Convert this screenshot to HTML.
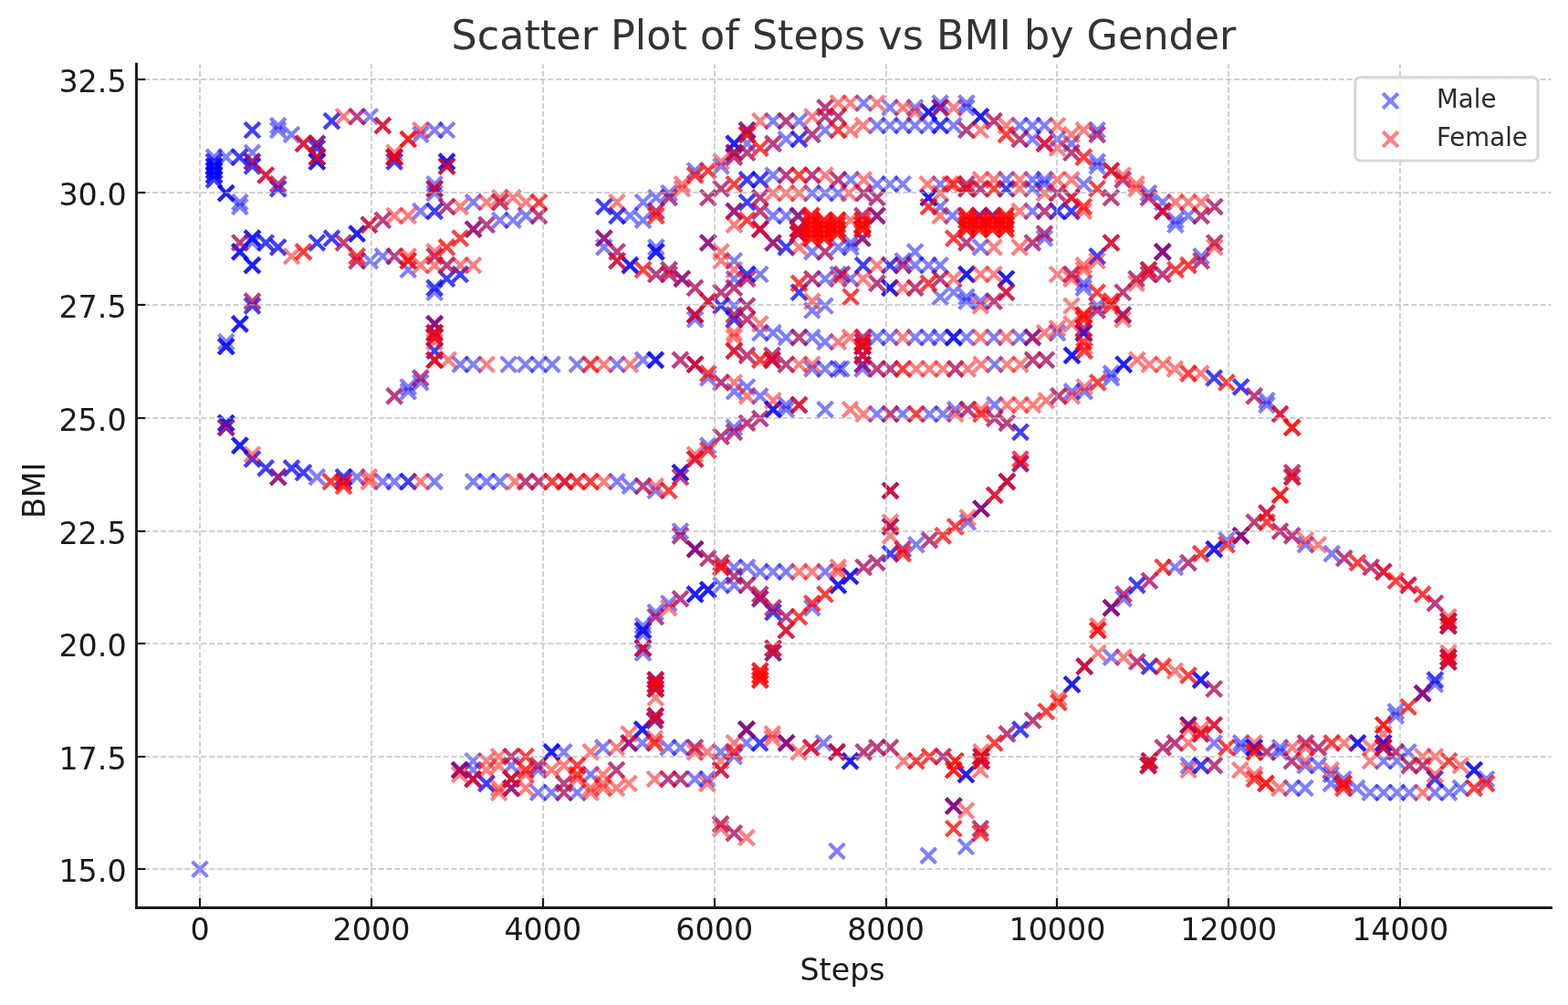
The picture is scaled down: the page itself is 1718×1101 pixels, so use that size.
<!DOCTYPE html>
<html lang="en"><head><meta charset="utf-8"><title>Scatter Plot of Steps vs BMI by Gender</title>
<style>html,body{margin:0;padding:0;background:#fff;}body{width:1718px;height:1101px;overflow:hidden;}svg{display:block;}text{font-family:"DejaVu Sans","Liberation Sans",sans-serif;}.tk{font-size:33.33px;fill:#1a1a1a;}.ti{font-size:44.44px;fill:#333333;}.lg{font-size:27.6px;fill:#2b2b2b;}.g{stroke:#b0b0b0;stroke-opacity:0.58;stroke-width:2;stroke-dasharray:6.17 2.67;fill:none;}.sp{stroke:#1a1a1a;stroke-width:2.9;fill:none;stroke-linecap:square;}.t{stroke:#1a1a1a;stroke-width:2.2;fill:none;}.m{stroke:#0000ff;stroke-opacity:0.5;stroke-width:4.17;fill:none;}.f{stroke:#ff0000;stroke-opacity:0.5;stroke-width:4.17;fill:none;}</style></head><body>
<svg width="1718" height="1101" viewBox="0 0 1718 1101">
<rect width="1718" height="1101" fill="#ffffff"/>
<g class="m">
<path d="M226.2 163.8l16.7 16.7m0-16.7l-16.7 16.7"/>
<path d="M226.2 168.7l16.7 16.7m0-16.7l-16.7 16.7"/>
<path d="M226.2 168.7l16.7 16.7m0-16.7l-16.7 16.7"/>
<path d="M226.2 173.7l16.7 16.7m0-16.7l-16.7 16.7"/>
<path d="M226.2 173.7l16.7 16.7m0-16.7l-16.7 16.7"/>
<path d="M226.2 173.7l16.7 16.7m0-16.7l-16.7 16.7"/>
<path d="M226.2 178.6l16.7 16.7m0-16.7l-16.7 16.7"/>
<path d="M226.2 178.6l16.7 16.7m0-16.7l-16.7 16.7"/>
<path d="M226.2 178.6l16.7 16.7m0-16.7l-16.7 16.7"/>
<path d="M226.2 183.6l16.7 16.7m0-16.7l-16.7 16.7"/>
<path d="M226.2 183.6l16.7 16.7m0-16.7l-16.7 16.7"/>
<path d="M226.2 183.6l16.7 16.7m0-16.7l-16.7 16.7"/>
<path d="M226.2 188.5l16.7 16.7m0-16.7l-16.7 16.7"/>
<path d="M226.2 188.5l16.7 16.7m0-16.7l-16.7 16.7"/>
<path d="M239.4 163.8l16.7 16.7m0-16.7l-16.7 16.7"/>
<path d="M254.1 163.8l16.7 16.7m0-16.7l-16.7 16.7"/>
<path d="M254.1 163.8l16.7 16.7m0-16.7l-16.7 16.7"/>
<path d="M268.1 158.9l16.7 16.7m0-16.7l-16.7 16.7"/>
<path d="M268.1 168.7l16.7 16.7m0-16.7l-16.7 16.7"/>
<path d="M268.1 168.7l16.7 16.7m0-16.7l-16.7 16.7"/>
<path d="M268.1 173.7l16.7 16.7m0-16.7l-16.7 16.7"/>
<path d="M268.1 173.7l16.7 16.7m0-16.7l-16.7 16.7"/>
<path d="M282.8 183.6l16.7 16.7m0-16.7l-16.7 16.7"/>
<path d="M296.4 193.4l16.7 16.7m0-16.7l-16.7 16.7"/>
<path d="M296.4 198.4l16.7 16.7m0-16.7l-16.7 16.7"/>
<path d="M296.4 198.4l16.7 16.7m0-16.7l-16.7 16.7"/>
<path d="M239.4 203.3l16.7 16.7m0-16.7l-16.7 16.7"/>
<path d="M239.4 203.3l16.7 16.7m0-16.7l-16.7 16.7"/>
<path d="M239.4 203.3l16.7 16.7m0-16.7l-16.7 16.7"/>
<path d="M254.5 213.2l16.7 16.7m0-16.7l-16.7 16.7"/>
<path d="M254.5 218.1l16.7 16.7m0-16.7l-16.7 16.7"/>
<path d="M268.1 134.2l16.7 16.7m0-16.7l-16.7 16.7"/>
<path d="M268.1 134.2l16.7 16.7m0-16.7l-16.7 16.7"/>
<path d="M296.4 129.2l16.7 16.7m0-16.7l-16.7 16.7"/>
<path d="M296.4 134.2l16.7 16.7m0-16.7l-16.7 16.7"/>
<path d="M311.1 139.1l16.7 16.7m0-16.7l-16.7 16.7"/>
<path d="M324.1 149.0l16.7 16.7m0-16.7l-16.7 16.7"/>
<path d="M339.0 149.0l16.7 16.7m0-16.7l-16.7 16.7"/>
<path d="M339.0 149.0l16.7 16.7m0-16.7l-16.7 16.7"/>
<path d="M339.0 153.9l16.7 16.7m0-16.7l-16.7 16.7"/>
<path d="M339.0 153.9l16.7 16.7m0-16.7l-16.7 16.7"/>
<path d="M339.0 163.8l16.7 16.7m0-16.7l-16.7 16.7"/>
<path d="M339.0 163.8l16.7 16.7m0-16.7l-16.7 16.7"/>
<path d="M339.0 168.7l16.7 16.7m0-16.7l-16.7 16.7"/>
<path d="M339.0 168.7l16.7 16.7m0-16.7l-16.7 16.7"/>
<path d="M339.0 168.7l16.7 16.7m0-16.7l-16.7 16.7"/>
<path d="M355.1 124.3l16.7 16.7m0-16.7l-16.7 16.7"/>
<path d="M355.1 124.3l16.7 16.7m0-16.7l-16.7 16.7"/>
<path d="M382.8 119.4l16.7 16.7m0-16.7l-16.7 16.7"/>
<path d="M397.0 119.4l16.7 16.7m0-16.7l-16.7 16.7"/>
<path d="M411.0 129.2l16.7 16.7m0-16.7l-16.7 16.7"/>
<path d="M423.8 163.8l16.7 16.7m0-16.7l-16.7 16.7"/>
<path d="M423.8 163.8l16.7 16.7m0-16.7l-16.7 16.7"/>
<path d="M423.8 163.8l16.7 16.7m0-16.7l-16.7 16.7"/>
<path d="M423.8 168.7l16.7 16.7m0-16.7l-16.7 16.7"/>
<path d="M423.8 168.7l16.7 16.7m0-16.7l-16.7 16.7"/>
<path d="M452.5 139.1l16.7 16.7m0-16.7l-16.7 16.7"/>
<path d="M467.8 134.2l16.7 16.7m0-16.7l-16.7 16.7"/>
<path d="M481.2 134.2l16.7 16.7m0-16.7l-16.7 16.7"/>
<path d="M481.2 168.7l16.7 16.7m0-16.7l-16.7 16.7"/>
<path d="M481.2 168.7l16.7 16.7m0-16.7l-16.7 16.7"/>
<path d="M481.2 168.7l16.7 16.7m0-16.7l-16.7 16.7"/>
<path d="M481.2 173.7l16.7 16.7m0-16.7l-16.7 16.7"/>
<path d="M481.2 173.7l16.7 16.7m0-16.7l-16.7 16.7"/>
<path d="M467.8 193.4l16.7 16.7m0-16.7l-16.7 16.7"/>
<path d="M467.8 198.4l16.7 16.7m0-16.7l-16.7 16.7"/>
<path d="M467.8 198.4l16.7 16.7m0-16.7l-16.7 16.7"/>
<path d="M467.8 203.3l16.7 16.7m0-16.7l-16.7 16.7"/>
<path d="M481.2 218.1l16.7 16.7m0-16.7l-16.7 16.7"/>
<path d="M510.2 213.2l16.7 16.7m0-16.7l-16.7 16.7"/>
<path d="M539.5 213.2l16.7 16.7m0-16.7l-16.7 16.7"/>
<path d="M467.8 223.0l16.7 16.7m0-16.7l-16.7 16.7"/>
<path d="M467.8 223.0l16.7 16.7m0-16.7l-16.7 16.7"/>
<path d="M452.5 223.0l16.7 16.7m0-16.7l-16.7 16.7"/>
<path d="M411.0 232.9l16.7 16.7m0-16.7l-16.7 16.7"/>
<path d="M396.0 237.9l16.7 16.7m0-16.7l-16.7 16.7"/>
<path d="M382.8 247.7l16.7 16.7m0-16.7l-16.7 16.7"/>
<path d="M382.8 247.7l16.7 16.7m0-16.7l-16.7 16.7"/>
<path d="M382.8 247.7l16.7 16.7m0-16.7l-16.7 16.7"/>
<path d="M368.1 257.6l16.7 16.7m0-16.7l-16.7 16.7"/>
<path d="M355.1 252.7l16.7 16.7m0-16.7l-16.7 16.7"/>
<path d="M355.1 252.7l16.7 16.7m0-16.7l-16.7 16.7"/>
<path d="M339.0 257.6l16.7 16.7m0-16.7l-16.7 16.7"/>
<path d="M339.0 257.6l16.7 16.7m0-16.7l-16.7 16.7"/>
<path d="M296.4 262.5l16.7 16.7m0-16.7l-16.7 16.7"/>
<path d="M296.4 262.5l16.7 16.7m0-16.7l-16.7 16.7"/>
<path d="M282.8 257.6l16.7 16.7m0-16.7l-16.7 16.7"/>
<path d="M282.8 257.6l16.7 16.7m0-16.7l-16.7 16.7"/>
<path d="M268.1 252.7l16.7 16.7m0-16.7l-16.7 16.7"/>
<path d="M268.1 252.7l16.7 16.7m0-16.7l-16.7 16.7"/>
<path d="M268.1 252.7l16.7 16.7m0-16.7l-16.7 16.7"/>
<path d="M268.1 257.6l16.7 16.7m0-16.7l-16.7 16.7"/>
<path d="M254.5 257.6l16.7 16.7m0-16.7l-16.7 16.7"/>
<path d="M254.5 267.5l16.7 16.7m0-16.7l-16.7 16.7"/>
<path d="M254.5 267.5l16.7 16.7m0-16.7l-16.7 16.7"/>
<path d="M254.5 267.5l16.7 16.7m0-16.7l-16.7 16.7"/>
<path d="M268.1 282.3l16.7 16.7m0-16.7l-16.7 16.7"/>
<path d="M268.1 282.3l16.7 16.7m0-16.7l-16.7 16.7"/>
<path d="M268.1 282.3l16.7 16.7m0-16.7l-16.7 16.7"/>
<path d="M382.8 277.4l16.7 16.7m0-16.7l-16.7 16.7"/>
<path d="M397.0 277.4l16.7 16.7m0-16.7l-16.7 16.7"/>
<path d="M411.0 272.4l16.7 16.7m0-16.7l-16.7 16.7"/>
<path d="M423.8 272.4l16.7 16.7m0-16.7l-16.7 16.7"/>
<path d="M438.9 287.2l16.7 16.7m0-16.7l-16.7 16.7"/>
<path d="M467.8 272.4l16.7 16.7m0-16.7l-16.7 16.7"/>
<path d="M481.2 282.3l16.7 16.7m0-16.7l-16.7 16.7"/>
<path d="M510.2 242.8l16.7 16.7m0-16.7l-16.7 16.7"/>
<path d="M510.2 242.8l16.7 16.7m0-16.7l-16.7 16.7"/>
<path d="M524.8 237.9l16.7 16.7m0-16.7l-16.7 16.7"/>
<path d="M539.5 232.9l16.7 16.7m0-16.7l-16.7 16.7"/>
<path d="M481.2 297.1l16.7 16.7m0-16.7l-16.7 16.7"/>
<path d="M481.2 297.1l16.7 16.7m0-16.7l-16.7 16.7"/>
<path d="M495.9 292.2l16.7 16.7m0-16.7l-16.7 16.7"/>
<path d="M495.9 292.2l16.7 16.7m0-16.7l-16.7 16.7"/>
<path d="M467.8 307.0l16.7 16.7m0-16.7l-16.7 16.7"/>
<path d="M467.8 307.0l16.7 16.7m0-16.7l-16.7 16.7"/>
<path d="M467.8 311.9l16.7 16.7m0-16.7l-16.7 16.7"/>
<path d="M268.1 321.8l16.7 16.7m0-16.7l-16.7 16.7"/>
<path d="M268.1 326.7l16.7 16.7m0-16.7l-16.7 16.7"/>
<path d="M268.1 326.7l16.7 16.7m0-16.7l-16.7 16.7"/>
<path d="M254.5 346.5l16.7 16.7m0-16.7l-16.7 16.7"/>
<path d="M254.5 346.5l16.7 16.7m0-16.7l-16.7 16.7"/>
<path d="M254.5 346.5l16.7 16.7m0-16.7l-16.7 16.7"/>
<path d="M239.4 366.2l16.7 16.7m0-16.7l-16.7 16.7"/>
<path d="M239.4 371.2l16.7 16.7m0-16.7l-16.7 16.7"/>
<path d="M239.4 371.2l16.7 16.7m0-16.7l-16.7 16.7"/>
<path d="M239.4 371.2l16.7 16.7m0-16.7l-16.7 16.7"/>
<path d="M467.8 346.5l16.7 16.7m0-16.7l-16.7 16.7"/>
<path d="M467.8 346.5l16.7 16.7m0-16.7l-16.7 16.7"/>
<path d="M467.8 346.5l16.7 16.7m0-16.7l-16.7 16.7"/>
<path d="M467.8 356.3l16.7 16.7m0-16.7l-16.7 16.7"/>
<path d="M467.8 356.3l16.7 16.7m0-16.7l-16.7 16.7"/>
<path d="M467.8 361.3l16.7 16.7m0-16.7l-16.7 16.7"/>
<path d="M467.8 376.1l16.7 16.7m0-16.7l-16.7 16.7"/>
<path d="M467.8 376.1l16.7 16.7m0-16.7l-16.7 16.7"/>
<path d="M467.8 386.0l16.7 16.7m0-16.7l-16.7 16.7"/>
<path d="M495.9 390.9l16.7 16.7m0-16.7l-16.7 16.7"/>
<path d="M510.2 390.9l16.7 16.7m0-16.7l-16.7 16.7"/>
<path d="M548.9 390.9l16.7 16.7m0-16.7l-16.7 16.7"/>
<path d="M452.5 405.7l16.7 16.7m0-16.7l-16.7 16.7"/>
<path d="M452.5 410.7l16.7 16.7m0-16.7l-16.7 16.7"/>
<path d="M438.9 415.6l16.7 16.7m0-16.7l-16.7 16.7"/>
<path d="M438.9 420.5l16.7 16.7m0-16.7l-16.7 16.7"/>
<path d="M423.8 425.5l16.7 16.7m0-16.7l-16.7 16.7"/>
<path d="M239.4 455.1l16.7 16.7m0-16.7l-16.7 16.7"/>
<path d="M239.4 455.1l16.7 16.7m0-16.7l-16.7 16.7"/>
<path d="M239.4 455.1l16.7 16.7m0-16.7l-16.7 16.7"/>
<path d="M239.4 460.0l16.7 16.7m0-16.7l-16.7 16.7"/>
<path d="M239.4 460.0l16.7 16.7m0-16.7l-16.7 16.7"/>
<path d="M254.5 479.8l16.7 16.7m0-16.7l-16.7 16.7"/>
<path d="M254.5 479.8l16.7 16.7m0-16.7l-16.7 16.7"/>
<path d="M254.5 479.8l16.7 16.7m0-16.7l-16.7 16.7"/>
<path d="M268.1 494.6l16.7 16.7m0-16.7l-16.7 16.7"/>
<path d="M268.1 494.6l16.7 16.7m0-16.7l-16.7 16.7"/>
<path d="M282.8 504.5l16.7 16.7m0-16.7l-16.7 16.7"/>
<path d="M282.8 504.5l16.7 16.7m0-16.7l-16.7 16.7"/>
<path d="M296.4 514.3l16.7 16.7m0-16.7l-16.7 16.7"/>
<path d="M296.4 514.3l16.7 16.7m0-16.7l-16.7 16.7"/>
<path d="M311.1 504.5l16.7 16.7m0-16.7l-16.7 16.7"/>
<path d="M311.1 504.5l16.7 16.7m0-16.7l-16.7 16.7"/>
<path d="M324.1 509.4l16.7 16.7m0-16.7l-16.7 16.7"/>
<path d="M324.1 509.4l16.7 16.7m0-16.7l-16.7 16.7"/>
<path d="M339.0 514.3l16.7 16.7m0-16.7l-16.7 16.7"/>
<path d="M368.1 514.3l16.7 16.7m0-16.7l-16.7 16.7"/>
<path d="M368.1 514.3l16.7 16.7m0-16.7l-16.7 16.7"/>
<path d="M368.1 519.3l16.7 16.7m0-16.7l-16.7 16.7"/>
<path d="M382.8 514.3l16.7 16.7m0-16.7l-16.7 16.7"/>
<path d="M411.0 519.3l16.7 16.7m0-16.7l-16.7 16.7"/>
<path d="M423.8 519.3l16.7 16.7m0-16.7l-16.7 16.7"/>
<path d="M438.9 519.3l16.7 16.7m0-16.7l-16.7 16.7"/>
<path d="M438.9 519.3l16.7 16.7m0-16.7l-16.7 16.7"/>
<path d="M467.8 519.3l16.7 16.7m0-16.7l-16.7 16.7"/>
<path d="M510.2 519.3l16.7 16.7m0-16.7l-16.7 16.7"/>
<path d="M524.8 519.3l16.7 16.7m0-16.7l-16.7 16.7"/>
<path d="M539.5 519.3l16.7 16.7m0-16.7l-16.7 16.7"/>
<path d="M553.7 232.9l16.7 16.7m0-16.7l-16.7 16.7"/>
<path d="M568.0 228.0l16.7 16.7m0-16.7l-16.7 16.7"/>
<path d="M582.2 228.0l16.7 16.7m0-16.7l-16.7 16.7"/>
<path d="M653.5 218.1l16.7 16.7m0-16.7l-16.7 16.7"/>
<path d="M653.5 218.1l16.7 16.7m0-16.7l-16.7 16.7"/>
<path d="M653.5 252.7l16.7 16.7m0-16.7l-16.7 16.7"/>
<path d="M653.5 252.7l16.7 16.7m0-16.7l-16.7 16.7"/>
<path d="M653.5 262.5l16.7 16.7m0-16.7l-16.7 16.7"/>
<path d="M667.7 228.0l16.7 16.7m0-16.7l-16.7 16.7"/>
<path d="M667.7 228.0l16.7 16.7m0-16.7l-16.7 16.7"/>
<path d="M667.7 267.5l16.7 16.7m0-16.7l-16.7 16.7"/>
<path d="M667.7 277.4l16.7 16.7m0-16.7l-16.7 16.7"/>
<path d="M682.0 228.0l16.7 16.7m0-16.7l-16.7 16.7"/>
<path d="M682.0 282.3l16.7 16.7m0-16.7l-16.7 16.7"/>
<path d="M682.0 282.3l16.7 16.7m0-16.7l-16.7 16.7"/>
<path d="M682.0 282.3l16.7 16.7m0-16.7l-16.7 16.7"/>
<path d="M696.2 213.2l16.7 16.7m0-16.7l-16.7 16.7"/>
<path d="M696.2 232.9l16.7 16.7m0-16.7l-16.7 16.7"/>
<path d="M710.5 208.2l16.7 16.7m0-16.7l-16.7 16.7"/>
<path d="M710.5 223.0l16.7 16.7m0-16.7l-16.7 16.7"/>
<path d="M710.5 262.5l16.7 16.7m0-16.7l-16.7 16.7"/>
<path d="M710.5 267.5l16.7 16.7m0-16.7l-16.7 16.7"/>
<path d="M710.5 267.5l16.7 16.7m0-16.7l-16.7 16.7"/>
<path d="M710.5 267.5l16.7 16.7m0-16.7l-16.7 16.7"/>
<path d="M710.5 292.2l16.7 16.7m0-16.7l-16.7 16.7"/>
<path d="M724.7 203.3l16.7 16.7m0-16.7l-16.7 16.7"/>
<path d="M724.7 208.2l16.7 16.7m0-16.7l-16.7 16.7"/>
<path d="M724.7 287.2l16.7 16.7m0-16.7l-16.7 16.7"/>
<path d="M724.7 292.2l16.7 16.7m0-16.7l-16.7 16.7"/>
<path d="M739.0 297.1l16.7 16.7m0-16.7l-16.7 16.7"/>
<path d="M739.0 297.1l16.7 16.7m0-16.7l-16.7 16.7"/>
<path d="M753.2 178.6l16.7 16.7m0-16.7l-16.7 16.7"/>
<path d="M753.2 307.0l16.7 16.7m0-16.7l-16.7 16.7"/>
<path d="M767.5 208.2l16.7 16.7m0-16.7l-16.7 16.7"/>
<path d="M767.5 257.6l16.7 16.7m0-16.7l-16.7 16.7"/>
<path d="M767.5 257.6l16.7 16.7m0-16.7l-16.7 16.7"/>
<path d="M781.7 173.7l16.7 16.7m0-16.7l-16.7 16.7"/>
<path d="M781.7 198.4l16.7 16.7m0-16.7l-16.7 16.7"/>
<path d="M781.7 311.9l16.7 16.7m0-16.7l-16.7 16.7"/>
<path d="M796.0 149.0l16.7 16.7m0-16.7l-16.7 16.7"/>
<path d="M796.0 149.0l16.7 16.7m0-16.7l-16.7 16.7"/>
<path d="M796.0 149.0l16.7 16.7m0-16.7l-16.7 16.7"/>
<path d="M796.0 158.9l16.7 16.7m0-16.7l-16.7 16.7"/>
<path d="M796.0 158.9l16.7 16.7m0-16.7l-16.7 16.7"/>
<path d="M796.0 163.8l16.7 16.7m0-16.7l-16.7 16.7"/>
<path d="M796.0 223.0l16.7 16.7m0-16.7l-16.7 16.7"/>
<path d="M796.0 223.0l16.7 16.7m0-16.7l-16.7 16.7"/>
<path d="M796.0 277.4l16.7 16.7m0-16.7l-16.7 16.7"/>
<path d="M796.0 297.1l16.7 16.7m0-16.7l-16.7 16.7"/>
<path d="M796.0 307.0l16.7 16.7m0-16.7l-16.7 16.7"/>
<path d="M810.2 134.2l16.7 16.7m0-16.7l-16.7 16.7"/>
<path d="M810.2 134.2l16.7 16.7m0-16.7l-16.7 16.7"/>
<path d="M810.2 139.1l16.7 16.7m0-16.7l-16.7 16.7"/>
<path d="M810.2 149.0l16.7 16.7m0-16.7l-16.7 16.7"/>
<path d="M810.2 158.9l16.7 16.7m0-16.7l-16.7 16.7"/>
<path d="M810.2 188.5l16.7 16.7m0-16.7l-16.7 16.7"/>
<path d="M810.2 188.5l16.7 16.7m0-16.7l-16.7 16.7"/>
<path d="M810.2 213.2l16.7 16.7m0-16.7l-16.7 16.7"/>
<path d="M810.2 213.2l16.7 16.7m0-16.7l-16.7 16.7"/>
<path d="M810.2 292.2l16.7 16.7m0-16.7l-16.7 16.7"/>
<path d="M810.2 292.2l16.7 16.7m0-16.7l-16.7 16.7"/>
<path d="M810.2 297.1l16.7 16.7m0-16.7l-16.7 16.7"/>
<path d="M824.5 188.5l16.7 16.7m0-16.7l-16.7 16.7"/>
<path d="M824.5 188.5l16.7 16.7m0-16.7l-16.7 16.7"/>
<path d="M824.5 208.2l16.7 16.7m0-16.7l-16.7 16.7"/>
<path d="M824.5 223.0l16.7 16.7m0-16.7l-16.7 16.7"/>
<path d="M824.5 242.8l16.7 16.7m0-16.7l-16.7 16.7"/>
<path d="M824.5 242.8l16.7 16.7m0-16.7l-16.7 16.7"/>
<path d="M824.5 292.2l16.7 16.7m0-16.7l-16.7 16.7"/>
<path d="M838.7 124.3l16.7 16.7m0-16.7l-16.7 16.7"/>
<path d="M838.7 149.0l16.7 16.7m0-16.7l-16.7 16.7"/>
<path d="M838.7 183.6l16.7 16.7m0-16.7l-16.7 16.7"/>
<path d="M838.7 228.0l16.7 16.7m0-16.7l-16.7 16.7"/>
<path d="M838.7 257.6l16.7 16.7m0-16.7l-16.7 16.7"/>
<path d="M838.7 257.6l16.7 16.7m0-16.7l-16.7 16.7"/>
<path d="M853.0 124.3l16.7 16.7m0-16.7l-16.7 16.7"/>
<path d="M853.0 144.1l16.7 16.7m0-16.7l-16.7 16.7"/>
<path d="M853.0 183.6l16.7 16.7m0-16.7l-16.7 16.7"/>
<path d="M853.0 228.0l16.7 16.7m0-16.7l-16.7 16.7"/>
<path d="M853.0 262.5l16.7 16.7m0-16.7l-16.7 16.7"/>
<path d="M853.0 262.5l16.7 16.7m0-16.7l-16.7 16.7"/>
<path d="M867.2 124.3l16.7 16.7m0-16.7l-16.7 16.7"/>
<path d="M867.2 144.1l16.7 16.7m0-16.7l-16.7 16.7"/>
<path d="M867.2 144.1l16.7 16.7m0-16.7l-16.7 16.7"/>
<path d="M867.2 311.9l16.7 16.7m0-16.7l-16.7 16.7"/>
<path d="M867.2 311.9l16.7 16.7m0-16.7l-16.7 16.7"/>
<path d="M881.5 139.1l16.7 16.7m0-16.7l-16.7 16.7"/>
<path d="M881.5 183.6l16.7 16.7m0-16.7l-16.7 16.7"/>
<path d="M881.5 203.3l16.7 16.7m0-16.7l-16.7 16.7"/>
<path d="M881.5 267.5l16.7 16.7m0-16.7l-16.7 16.7"/>
<path d="M881.5 297.1l16.7 16.7m0-16.7l-16.7 16.7"/>
<path d="M895.7 109.5l16.7 16.7m0-16.7l-16.7 16.7"/>
<path d="M895.7 119.4l16.7 16.7m0-16.7l-16.7 16.7"/>
<path d="M895.7 134.2l16.7 16.7m0-16.7l-16.7 16.7"/>
<path d="M895.7 203.3l16.7 16.7m0-16.7l-16.7 16.7"/>
<path d="M895.7 267.5l16.7 16.7m0-16.7l-16.7 16.7"/>
<path d="M895.7 297.1l16.7 16.7m0-16.7l-16.7 16.7"/>
<path d="M910.0 119.4l16.7 16.7m0-16.7l-16.7 16.7"/>
<path d="M910.0 188.5l16.7 16.7m0-16.7l-16.7 16.7"/>
<path d="M910.0 203.3l16.7 16.7m0-16.7l-16.7 16.7"/>
<path d="M910.0 262.5l16.7 16.7m0-16.7l-16.7 16.7"/>
<path d="M910.0 292.2l16.7 16.7m0-16.7l-16.7 16.7"/>
<path d="M767.5 321.8l16.7 16.7m0-16.7l-16.7 16.7"/>
<path d="M781.7 326.7l16.7 16.7m0-16.7l-16.7 16.7"/>
<path d="M781.7 326.7l16.7 16.7m0-16.7l-16.7 16.7"/>
<path d="M796.0 326.7l16.7 16.7m0-16.7l-16.7 16.7"/>
<path d="M796.0 336.6l16.7 16.7m0-16.7l-16.7 16.7"/>
<path d="M796.0 341.5l16.7 16.7m0-16.7l-16.7 16.7"/>
<path d="M796.0 341.5l16.7 16.7m0-16.7l-16.7 16.7"/>
<path d="M810.2 326.7l16.7 16.7m0-16.7l-16.7 16.7"/>
<path d="M810.2 341.5l16.7 16.7m0-16.7l-16.7 16.7"/>
<path d="M824.5 356.3l16.7 16.7m0-16.7l-16.7 16.7"/>
<path d="M838.7 356.3l16.7 16.7m0-16.7l-16.7 16.7"/>
<path d="M853.0 361.3l16.7 16.7m0-16.7l-16.7 16.7"/>
<path d="M867.2 361.3l16.7 16.7m0-16.7l-16.7 16.7"/>
<path d="M881.5 361.3l16.7 16.7m0-16.7l-16.7 16.7"/>
<path d="M895.7 366.2l16.7 16.7m0-16.7l-16.7 16.7"/>
<path d="M881.5 331.7l16.7 16.7m0-16.7l-16.7 16.7"/>
<path d="M895.7 326.7l16.7 16.7m0-16.7l-16.7 16.7"/>
<path d="M796.0 376.1l16.7 16.7m0-16.7l-16.7 16.7"/>
<path d="M810.2 381.0l16.7 16.7m0-16.7l-16.7 16.7"/>
<path d="M837.7 381.0l16.7 16.7m0-16.7l-16.7 16.7"/>
<path d="M837.7 386.0l16.7 16.7m0-16.7l-16.7 16.7"/>
<path d="M837.7 386.0l16.7 16.7m0-16.7l-16.7 16.7"/>
<path d="M853.0 390.9l16.7 16.7m0-16.7l-16.7 16.7"/>
<path d="M881.5 395.8l16.7 16.7m0-16.7l-16.7 16.7"/>
<path d="M895.7 395.8l16.7 16.7m0-16.7l-16.7 16.7"/>
<path d="M910.0 395.8l16.7 16.7m0-16.7l-16.7 16.7"/>
<path d="M567.4 390.9l16.7 16.7m0-16.7l-16.7 16.7"/>
<path d="M582.0 390.9l16.7 16.7m0-16.7l-16.7 16.7"/>
<path d="M596.7 390.9l16.7 16.7m0-16.7l-16.7 16.7"/>
<path d="M623.9 390.9l16.7 16.7m0-16.7l-16.7 16.7"/>
<path d="M667.7 390.9l16.7 16.7m0-16.7l-16.7 16.7"/>
<path d="M696.2 386.0l16.7 16.7m0-16.7l-16.7 16.7"/>
<path d="M709.9 386.0l16.7 16.7m0-16.7l-16.7 16.7"/>
<path d="M709.9 386.0l16.7 16.7m0-16.7l-16.7 16.7"/>
<path d="M709.9 386.0l16.7 16.7m0-16.7l-16.7 16.7"/>
<path d="M737.1 386.0l16.7 16.7m0-16.7l-16.7 16.7"/>
<path d="M753.2 390.9l16.7 16.7m0-16.7l-16.7 16.7"/>
<path d="M753.2 390.9l16.7 16.7m0-16.7l-16.7 16.7"/>
<path d="M767.5 405.7l16.7 16.7m0-16.7l-16.7 16.7"/>
<path d="M781.7 410.7l16.7 16.7m0-16.7l-16.7 16.7"/>
<path d="M796.0 420.5l16.7 16.7m0-16.7l-16.7 16.7"/>
<path d="M810.2 415.6l16.7 16.7m0-16.7l-16.7 16.7"/>
<path d="M824.5 425.5l16.7 16.7m0-16.7l-16.7 16.7"/>
<path d="M853.0 435.3l16.7 16.7m0-16.7l-16.7 16.7"/>
<path d="M853.0 440.3l16.7 16.7m0-16.7l-16.7 16.7"/>
<path d="M867.2 435.3l16.7 16.7m0-16.7l-16.7 16.7"/>
<path d="M895.7 440.3l16.7 16.7m0-16.7l-16.7 16.7"/>
<path d="M838.7 440.3l16.7 16.7m0-16.7l-16.7 16.7"/>
<path d="M838.7 440.3l16.7 16.7m0-16.7l-16.7 16.7"/>
<path d="M838.7 440.3l16.7 16.7m0-16.7l-16.7 16.7"/>
<path d="M567.4 519.3l16.7 16.7m0-16.7l-16.7 16.7"/>
<path d="M582.0 519.3l16.7 16.7m0-16.7l-16.7 16.7"/>
<path d="M610.3 519.3l16.7 16.7m0-16.7l-16.7 16.7"/>
<path d="M667.7 519.3l16.7 16.7m0-16.7l-16.7 16.7"/>
<path d="M682.0 524.2l16.7 16.7m0-16.7l-16.7 16.7"/>
<path d="M696.2 524.2l16.7 16.7m0-16.7l-16.7 16.7"/>
<path d="M709.9 529.1l16.7 16.7m0-16.7l-16.7 16.7"/>
<path d="M737.1 509.4l16.7 16.7m0-16.7l-16.7 16.7"/>
<path d="M737.1 509.4l16.7 16.7m0-16.7l-16.7 16.7"/>
<path d="M737.1 509.4l16.7 16.7m0-16.7l-16.7 16.7"/>
<path d="M737.1 514.3l16.7 16.7m0-16.7l-16.7 16.7"/>
<path d="M753.2 494.6l16.7 16.7m0-16.7l-16.7 16.7"/>
<path d="M767.5 479.8l16.7 16.7m0-16.7l-16.7 16.7"/>
<path d="M781.7 469.9l16.7 16.7m0-16.7l-16.7 16.7"/>
<path d="M796.0 460.0l16.7 16.7m0-16.7l-16.7 16.7"/>
<path d="M796.0 465.0l16.7 16.7m0-16.7l-16.7 16.7"/>
<path d="M810.2 455.1l16.7 16.7m0-16.7l-16.7 16.7"/>
<path d="M824.5 450.2l16.7 16.7m0-16.7l-16.7 16.7"/>
<path d="M753.2 336.6l16.7 16.7m0-16.7l-16.7 16.7"/>
<path d="M753.2 336.6l16.7 16.7m0-16.7l-16.7 16.7"/>
<path d="M753.2 341.5l16.7 16.7m0-16.7l-16.7 16.7"/>
<path d="M737.1 573.6l16.7 16.7m0-16.7l-16.7 16.7"/>
<path d="M737.1 578.5l16.7 16.7m0-16.7l-16.7 16.7"/>
<path d="M753.2 593.3l16.7 16.7m0-16.7l-16.7 16.7"/>
<path d="M753.2 593.3l16.7 16.7m0-16.7l-16.7 16.7"/>
<path d="M753.2 593.3l16.7 16.7m0-16.7l-16.7 16.7"/>
<path d="M767.5 603.2l16.7 16.7m0-16.7l-16.7 16.7"/>
<path d="M781.7 608.1l16.7 16.7m0-16.7l-16.7 16.7"/>
<path d="M796.0 613.1l16.7 16.7m0-16.7l-16.7 16.7"/>
<path d="M810.2 613.1l16.7 16.7m0-16.7l-16.7 16.7"/>
<path d="M824.5 618.0l16.7 16.7m0-16.7l-16.7 16.7"/>
<path d="M838.7 618.0l16.7 16.7m0-16.7l-16.7 16.7"/>
<path d="M853.0 618.0l16.7 16.7m0-16.7l-16.7 16.7"/>
<path d="M895.7 618.0l16.7 16.7m0-16.7l-16.7 16.7"/>
<path d="M796.0 622.9l16.7 16.7m0-16.7l-16.7 16.7"/>
<path d="M810.2 632.8l16.7 16.7m0-16.7l-16.7 16.7"/>
<path d="M824.5 642.7l16.7 16.7m0-16.7l-16.7 16.7"/>
<path d="M824.5 647.6l16.7 16.7m0-16.7l-16.7 16.7"/>
<path d="M824.5 647.6l16.7 16.7m0-16.7l-16.7 16.7"/>
<path d="M838.7 657.5l16.7 16.7m0-16.7l-16.7 16.7"/>
<path d="M838.7 662.4l16.7 16.7m0-16.7l-16.7 16.7"/>
<path d="M838.7 662.4l16.7 16.7m0-16.7l-16.7 16.7"/>
<path d="M853.0 667.4l16.7 16.7m0-16.7l-16.7 16.7"/>
<path d="M853.0 682.2l16.7 16.7m0-16.7l-16.7 16.7"/>
<path d="M838.7 701.9l16.7 16.7m0-16.7l-16.7 16.7"/>
<path d="M838.7 706.9l16.7 16.7m0-16.7l-16.7 16.7"/>
<path d="M838.7 706.9l16.7 16.7m0-16.7l-16.7 16.7"/>
<path d="M781.7 632.8l16.7 16.7m0-16.7l-16.7 16.7"/>
<path d="M796.0 632.8l16.7 16.7m0-16.7l-16.7 16.7"/>
<path d="M767.5 637.8l16.7 16.7m0-16.7l-16.7 16.7"/>
<path d="M767.5 637.8l16.7 16.7m0-16.7l-16.7 16.7"/>
<path d="M767.5 637.8l16.7 16.7m0-16.7l-16.7 16.7"/>
<path d="M753.2 642.7l16.7 16.7m0-16.7l-16.7 16.7"/>
<path d="M753.2 642.7l16.7 16.7m0-16.7l-16.7 16.7"/>
<path d="M753.2 642.7l16.7 16.7m0-16.7l-16.7 16.7"/>
<path d="M737.1 647.6l16.7 16.7m0-16.7l-16.7 16.7"/>
<path d="M724.5 652.6l16.7 16.7m0-16.7l-16.7 16.7"/>
<path d="M709.9 662.4l16.7 16.7m0-16.7l-16.7 16.7"/>
<path d="M709.9 667.4l16.7 16.7m0-16.7l-16.7 16.7"/>
<path d="M696.2 677.3l16.7 16.7m0-16.7l-16.7 16.7"/>
<path d="M696.2 682.2l16.7 16.7m0-16.7l-16.7 16.7"/>
<path d="M696.2 682.2l16.7 16.7m0-16.7l-16.7 16.7"/>
<path d="M696.2 682.2l16.7 16.7m0-16.7l-16.7 16.7"/>
<path d="M696.2 687.1l16.7 16.7m0-16.7l-16.7 16.7"/>
<path d="M696.2 701.9l16.7 16.7m0-16.7l-16.7 16.7"/>
<path d="M696.2 701.9l16.7 16.7m0-16.7l-16.7 16.7"/>
<path d="M696.2 706.9l16.7 16.7m0-16.7l-16.7 16.7"/>
<path d="M709.9 736.5l16.7 16.7m0-16.7l-16.7 16.7"/>
<path d="M709.9 736.5l16.7 16.7m0-16.7l-16.7 16.7"/>
<path d="M709.9 741.4l16.7 16.7m0-16.7l-16.7 16.7"/>
<path d="M709.9 741.4l16.7 16.7m0-16.7l-16.7 16.7"/>
<path d="M709.9 746.4l16.7 16.7m0-16.7l-16.7 16.7"/>
<path d="M709.9 746.4l16.7 16.7m0-16.7l-16.7 16.7"/>
<path d="M709.9 776.0l16.7 16.7m0-16.7l-16.7 16.7"/>
<path d="M709.9 776.0l16.7 16.7m0-16.7l-16.7 16.7"/>
<path d="M881.5 657.5l16.7 16.7m0-16.7l-16.7 16.7"/>
<path d="M910.0 632.8l16.7 16.7m0-16.7l-16.7 16.7"/>
<path d="M910.0 632.8l16.7 16.7m0-16.7l-16.7 16.7"/>
<path d="M910.0 632.8l16.7 16.7m0-16.7l-16.7 16.7"/>
<path d="M495.3 835.2l16.7 16.7m0-16.7l-16.7 16.7"/>
<path d="M495.3 835.2l16.7 16.7m0-16.7l-16.7 16.7"/>
<path d="M495.3 835.2l16.7 16.7m0-16.7l-16.7 16.7"/>
<path d="M509.9 825.4l16.7 16.7m0-16.7l-16.7 16.7"/>
<path d="M509.9 835.2l16.7 16.7m0-16.7l-16.7 16.7"/>
<path d="M509.9 845.1l16.7 16.7m0-16.7l-16.7 16.7"/>
<path d="M509.9 845.1l16.7 16.7m0-16.7l-16.7 16.7"/>
<path d="M524.6 850.0l16.7 16.7m0-16.7l-16.7 16.7"/>
<path d="M524.6 850.0l16.7 16.7m0-16.7l-16.7 16.7"/>
<path d="M551.8 820.4l16.7 16.7m0-16.7l-16.7 16.7"/>
<path d="M551.8 830.3l16.7 16.7m0-16.7l-16.7 16.7"/>
<path d="M551.8 845.1l16.7 16.7m0-16.7l-16.7 16.7"/>
<path d="M551.8 845.1l16.7 16.7m0-16.7l-16.7 16.7"/>
<path d="M551.8 855.0l16.7 16.7m0-16.7l-16.7 16.7"/>
<path d="M551.8 855.0l16.7 16.7m0-16.7l-16.7 16.7"/>
<path d="M581.2 830.3l16.7 16.7m0-16.7l-16.7 16.7"/>
<path d="M581.2 835.2l16.7 16.7m0-16.7l-16.7 16.7"/>
<path d="M581.2 859.9l16.7 16.7m0-16.7l-16.7 16.7"/>
<path d="M595.9 815.5l16.7 16.7m0-16.7l-16.7 16.7"/>
<path d="M595.9 815.5l16.7 16.7m0-16.7l-16.7 16.7"/>
<path d="M595.9 815.5l16.7 16.7m0-16.7l-16.7 16.7"/>
<path d="M595.9 859.9l16.7 16.7m0-16.7l-16.7 16.7"/>
<path d="M609.5 815.5l16.7 16.7m0-16.7l-16.7 16.7"/>
<path d="M609.5 850.0l16.7 16.7m0-16.7l-16.7 16.7"/>
<path d="M609.5 859.9l16.7 16.7m0-16.7l-16.7 16.7"/>
<path d="M624.1 859.9l16.7 16.7m0-16.7l-16.7 16.7"/>
<path d="M638.8 840.2l16.7 16.7m0-16.7l-16.7 16.7"/>
<path d="M652.4 810.6l16.7 16.7m0-16.7l-16.7 16.7"/>
<path d="M667.1 835.2l16.7 16.7m0-16.7l-16.7 16.7"/>
<path d="M680.7 805.6l16.7 16.7m0-16.7l-16.7 16.7"/>
<path d="M680.7 805.6l16.7 16.7m0-16.7l-16.7 16.7"/>
<path d="M695.4 790.8l16.7 16.7m0-16.7l-16.7 16.7"/>
<path d="M695.4 790.8l16.7 16.7m0-16.7l-16.7 16.7"/>
<path d="M695.4 790.8l16.7 16.7m0-16.7l-16.7 16.7"/>
<path d="M695.4 805.6l16.7 16.7m0-16.7l-16.7 16.7"/>
<path d="M709.0 780.9l16.7 16.7m0-16.7l-16.7 16.7"/>
<path d="M709.0 780.9l16.7 16.7m0-16.7l-16.7 16.7"/>
<path d="M723.7 810.6l16.7 16.7m0-16.7l-16.7 16.7"/>
<path d="M737.3 810.6l16.7 16.7m0-16.7l-16.7 16.7"/>
<path d="M753.0 810.6l16.7 16.7m0-16.7l-16.7 16.7"/>
<path d="M781.3 815.5l16.7 16.7m0-16.7l-16.7 16.7"/>
<path d="M781.3 835.2l16.7 16.7m0-16.7l-16.7 16.7"/>
<path d="M796.0 820.4l16.7 16.7m0-16.7l-16.7 16.7"/>
<path d="M809.6 790.8l16.7 16.7m0-16.7l-16.7 16.7"/>
<path d="M809.6 790.8l16.7 16.7m0-16.7l-16.7 16.7"/>
<path d="M809.6 790.8l16.7 16.7m0-16.7l-16.7 16.7"/>
<path d="M809.6 805.6l16.7 16.7m0-16.7l-16.7 16.7"/>
<path d="M824.3 805.6l16.7 16.7m0-16.7l-16.7 16.7"/>
<path d="M824.3 805.6l16.7 16.7m0-16.7l-16.7 16.7"/>
<path d="M723.7 845.1l16.7 16.7m0-16.7l-16.7 16.7"/>
<path d="M737.3 845.1l16.7 16.7m0-16.7l-16.7 16.7"/>
<path d="M753.0 845.1l16.7 16.7m0-16.7l-16.7 16.7"/>
<path d="M766.6 845.1l16.7 16.7m0-16.7l-16.7 16.7"/>
<path d="M781.3 894.5l16.7 16.7m0-16.7l-16.7 16.7"/>
<path d="M796.0 904.4l16.7 16.7m0-16.7l-16.7 16.7"/>
<path d="M936.8 371.2l16.7 16.7m0-16.7l-16.7 16.7"/>
<path d="M936.8 371.2l16.7 16.7m0-16.7l-16.7 16.7"/>
<path d="M936.8 381.0l16.7 16.7m0-16.7l-16.7 16.7"/>
<path d="M936.8 381.0l16.7 16.7m0-16.7l-16.7 16.7"/>
<path d="M936.8 390.9l16.7 16.7m0-16.7l-16.7 16.7"/>
<path d="M936.8 390.9l16.7 16.7m0-16.7l-16.7 16.7"/>
<path d="M936.8 395.8l16.7 16.7m0-16.7l-16.7 16.7"/>
<path d="M913.7 395.8l16.7 16.7m0-16.7l-16.7 16.7"/>
<path d="M952.5 395.8l16.7 16.7m0-16.7l-16.7 16.7"/>
<path d="M967.2 395.8l16.7 16.7m0-16.7l-16.7 16.7"/>
<path d="M1038.4 395.8l16.7 16.7m0-16.7l-16.7 16.7"/>
<path d="M1081.4 390.9l16.7 16.7m0-16.7l-16.7 16.7"/>
<path d="M1123.3 386.0l16.7 16.7m0-16.7l-16.7 16.7"/>
<path d="M1138.0 386.0l16.7 16.7m0-16.7l-16.7 16.7"/>
<path d="M1166.2 381.0l16.7 16.7m0-16.7l-16.7 16.7"/>
<path d="M1166.2 381.0l16.7 16.7m0-16.7l-16.7 16.7"/>
<path d="M1166.2 381.0l16.7 16.7m0-16.7l-16.7 16.7"/>
<path d="M1222.8 390.9l16.7 16.7m0-16.7l-16.7 16.7"/>
<path d="M1222.8 390.9l16.7 16.7m0-16.7l-16.7 16.7"/>
<path d="M1222.8 390.9l16.7 16.7m0-16.7l-16.7 16.7"/>
<path d="M1209.2 400.8l16.7 16.7m0-16.7l-16.7 16.7"/>
<path d="M1209.2 405.7l16.7 16.7m0-16.7l-16.7 16.7"/>
<path d="M1179.9 420.5l16.7 16.7m0-16.7l-16.7 16.7"/>
<path d="M1166.2 420.5l16.7 16.7m0-16.7l-16.7 16.7"/>
<path d="M1151.6 425.5l16.7 16.7m0-16.7l-16.7 16.7"/>
<path d="M1081.4 435.3l16.7 16.7m0-16.7l-16.7 16.7"/>
<path d="M952.5 445.2l16.7 16.7m0-16.7l-16.7 16.7"/>
<path d="M967.2 445.2l16.7 16.7m0-16.7l-16.7 16.7"/>
<path d="M980.8 445.2l16.7 16.7m0-16.7l-16.7 16.7"/>
<path d="M1010.1 445.2l16.7 16.7m0-16.7l-16.7 16.7"/>
<path d="M1024.8 445.2l16.7 16.7m0-16.7l-16.7 16.7"/>
<path d="M1038.4 440.3l16.7 16.7m0-16.7l-16.7 16.7"/>
<path d="M1052.0 440.3l16.7 16.7m0-16.7l-16.7 16.7"/>
<path d="M1081.4 450.2l16.7 16.7m0-16.7l-16.7 16.7"/>
<path d="M1095.0 455.1l16.7 16.7m0-16.7l-16.7 16.7"/>
<path d="M1109.7 465.0l16.7 16.7m0-16.7l-16.7 16.7"/>
<path d="M1109.7 465.0l16.7 16.7m0-16.7l-16.7 16.7"/>
<path d="M1109.7 499.5l16.7 16.7m0-16.7l-16.7 16.7"/>
<path d="M1109.7 499.5l16.7 16.7m0-16.7l-16.7 16.7"/>
<path d="M1095.0 519.3l16.7 16.7m0-16.7l-16.7 16.7"/>
<path d="M1095.0 519.3l16.7 16.7m0-16.7l-16.7 16.7"/>
<path d="M1081.4 534.1l16.7 16.7m0-16.7l-16.7 16.7"/>
<path d="M1066.7 548.9l16.7 16.7m0-16.7l-16.7 16.7"/>
<path d="M1066.7 548.9l16.7 16.7m0-16.7l-16.7 16.7"/>
<path d="M1066.7 548.9l16.7 16.7m0-16.7l-16.7 16.7"/>
<path d="M1052.0 563.7l16.7 16.7m0-16.7l-16.7 16.7"/>
<path d="M1010.1 583.4l16.7 16.7m0-16.7l-16.7 16.7"/>
<path d="M995.5 588.4l16.7 16.7m0-16.7l-16.7 16.7"/>
<path d="M980.8 593.3l16.7 16.7m0-16.7l-16.7 16.7"/>
<path d="M967.2 598.3l16.7 16.7m0-16.7l-16.7 16.7"/>
<path d="M967.2 598.3l16.7 16.7m0-16.7l-16.7 16.7"/>
<path d="M967.2 529.1l16.7 16.7m0-16.7l-16.7 16.7"/>
<path d="M967.2 529.1l16.7 16.7m0-16.7l-16.7 16.7"/>
<path d="M967.2 568.6l16.7 16.7m0-16.7l-16.7 16.7"/>
<path d="M967.2 568.6l16.7 16.7m0-16.7l-16.7 16.7"/>
<path d="M923.2 622.9l16.7 16.7m0-16.7l-16.7 16.7"/>
<path d="M923.2 622.9l16.7 16.7m0-16.7l-16.7 16.7"/>
<path d="M923.2 622.9l16.7 16.7m0-16.7l-16.7 16.7"/>
<path d="M937.8 613.1l16.7 16.7m0-16.7l-16.7 16.7"/>
<path d="M952.5 608.1l16.7 16.7m0-16.7l-16.7 16.7"/>
<path d="M1251.1 627.9l16.7 16.7m0-16.7l-16.7 16.7"/>
<path d="M1237.5 632.8l16.7 16.7m0-16.7l-16.7 16.7"/>
<path d="M1237.5 632.8l16.7 16.7m0-16.7l-16.7 16.7"/>
<path d="M1222.8 642.7l16.7 16.7m0-16.7l-16.7 16.7"/>
<path d="M1222.8 647.6l16.7 16.7m0-16.7l-16.7 16.7"/>
<path d="M1209.2 657.5l16.7 16.7m0-16.7l-16.7 16.7"/>
<path d="M1209.2 657.5l16.7 16.7m0-16.7l-16.7 16.7"/>
<path d="M1209.2 657.5l16.7 16.7m0-16.7l-16.7 16.7"/>
<path d="M1209.2 711.8l16.7 16.7m0-16.7l-16.7 16.7"/>
<path d="M1237.5 716.7l16.7 16.7m0-16.7l-16.7 16.7"/>
<path d="M1251.1 721.7l16.7 16.7m0-16.7l-16.7 16.7"/>
<path d="M1251.1 721.7l16.7 16.7m0-16.7l-16.7 16.7"/>
<path d="M1179.9 721.7l16.7 16.7m0-16.7l-16.7 16.7"/>
<path d="M1179.9 721.7l16.7 16.7m0-16.7l-16.7 16.7"/>
<path d="M1166.2 741.4l16.7 16.7m0-16.7l-16.7 16.7"/>
<path d="M1166.2 741.4l16.7 16.7m0-16.7l-16.7 16.7"/>
<path d="M1166.2 741.4l16.7 16.7m0-16.7l-16.7 16.7"/>
<path d="M1123.3 780.9l16.7 16.7m0-16.7l-16.7 16.7"/>
<path d="M1109.7 790.8l16.7 16.7m0-16.7l-16.7 16.7"/>
<path d="M1109.7 790.8l16.7 16.7m0-16.7l-16.7 16.7"/>
<path d="M1095.0 795.7l16.7 16.7m0-16.7l-16.7 16.7"/>
<path d="M1066.7 820.4l16.7 16.7m0-16.7l-16.7 16.7"/>
<path d="M1066.7 820.4l16.7 16.7m0-16.7l-16.7 16.7"/>
<path d="M1066.7 825.4l16.7 16.7m0-16.7l-16.7 16.7"/>
<path d="M1066.7 825.4l16.7 16.7m0-16.7l-16.7 16.7"/>
<path d="M923.2 825.4l16.7 16.7m0-16.7l-16.7 16.7"/>
<path d="M923.2 825.4l16.7 16.7m0-16.7l-16.7 16.7"/>
<path d="M923.2 825.4l16.7 16.7m0-16.7l-16.7 16.7"/>
<path d="M937.8 815.5l16.7 16.7m0-16.7l-16.7 16.7"/>
<path d="M952.5 810.6l16.7 16.7m0-16.7l-16.7 16.7"/>
<path d="M967.2 810.6l16.7 16.7m0-16.7l-16.7 16.7"/>
<path d="M1024.8 820.4l16.7 16.7m0-16.7l-16.7 16.7"/>
<path d="M1251.1 825.4l16.7 16.7m0-16.7l-16.7 16.7"/>
<path d="M1251.1 825.4l16.7 16.7m0-16.7l-16.7 16.7"/>
<path d="M1265.8 810.6l16.7 16.7m0-16.7l-16.7 16.7"/>
<path d="M853.2 805.6l16.7 16.7m0-16.7l-16.7 16.7"/>
<path d="M853.2 805.6l16.7 16.7m0-16.7l-16.7 16.7"/>
<path d="M853.2 805.6l16.7 16.7m0-16.7l-16.7 16.7"/>
<path d="M880.4 810.6l16.7 16.7m0-16.7l-16.7 16.7"/>
<path d="M894.0 805.6l16.7 16.7m0-16.7l-16.7 16.7"/>
<path d="M908.7 815.5l16.7 16.7m0-16.7l-16.7 16.7"/>
<path d="M908.7 815.5l16.7 16.7m0-16.7l-16.7 16.7"/>
<path d="M1050.1 840.2l16.7 16.7m0-16.7l-16.7 16.7"/>
<path d="M1050.1 840.2l16.7 16.7m0-16.7l-16.7 16.7"/>
<path d="M1050.1 840.2l16.7 16.7m0-16.7l-16.7 16.7"/>
<path d="M1036.5 874.7l16.7 16.7m0-16.7l-16.7 16.7"/>
<path d="M1036.5 874.7l16.7 16.7m0-16.7l-16.7 16.7"/>
<path d="M1036.5 874.7l16.7 16.7m0-16.7l-16.7 16.7"/>
<path d="M1065.9 899.4l16.7 16.7m0-16.7l-16.7 16.7"/>
<path d="M1050.1 919.2l16.7 16.7m0-16.7l-16.7 16.7"/>
<path d="M1008.9 929.0l16.7 16.7m0-16.7l-16.7 16.7"/>
<path d="M908.7 924.1l16.7 16.7m0-16.7l-16.7 16.7"/>
<path d="M1321.9 405.7l16.7 16.7m0-16.7l-16.7 16.7"/>
<path d="M1321.9 405.7l16.7 16.7m0-16.7l-16.7 16.7"/>
<path d="M1351.3 415.6l16.7 16.7m0-16.7l-16.7 16.7"/>
<path d="M1351.3 415.6l16.7 16.7m0-16.7l-16.7 16.7"/>
<path d="M1365.9 425.5l16.7 16.7m0-16.7l-16.7 16.7"/>
<path d="M1379.6 430.4l16.7 16.7m0-16.7l-16.7 16.7"/>
<path d="M1379.6 435.3l16.7 16.7m0-16.7l-16.7 16.7"/>
<path d="M1394.2 445.2l16.7 16.7m0-16.7l-16.7 16.7"/>
<path d="M1407.4 509.4l16.7 16.7m0-16.7l-16.7 16.7"/>
<path d="M1407.4 514.3l16.7 16.7m0-16.7l-16.7 16.7"/>
<path d="M1379.6 553.8l16.7 16.7m0-16.7l-16.7 16.7"/>
<path d="M1365.9 563.7l16.7 16.7m0-16.7l-16.7 16.7"/>
<path d="M1351.3 578.5l16.7 16.7m0-16.7l-16.7 16.7"/>
<path d="M1351.3 578.5l16.7 16.7m0-16.7l-16.7 16.7"/>
<path d="M1351.3 578.5l16.7 16.7m0-16.7l-16.7 16.7"/>
<path d="M1335.6 583.4l16.7 16.7m0-16.7l-16.7 16.7"/>
<path d="M1321.9 593.3l16.7 16.7m0-16.7l-16.7 16.7"/>
<path d="M1321.9 593.3l16.7 16.7m0-16.7l-16.7 16.7"/>
<path d="M1321.9 593.3l16.7 16.7m0-16.7l-16.7 16.7"/>
<path d="M1394.2 573.6l16.7 16.7m0-16.7l-16.7 16.7"/>
<path d="M1407.4 578.5l16.7 16.7m0-16.7l-16.7 16.7"/>
<path d="M1422.1 588.4l16.7 16.7m0-16.7l-16.7 16.7"/>
<path d="M1450.8 598.3l16.7 16.7m0-16.7l-16.7 16.7"/>
<path d="M1279.0 613.1l16.7 16.7m0-16.7l-16.7 16.7"/>
<path d="M1293.7 608.1l16.7 16.7m0-16.7l-16.7 16.7"/>
<path d="M1464.4 603.2l16.7 16.7m0-16.7l-16.7 16.7"/>
<path d="M1493.8 613.1l16.7 16.7m0-16.7l-16.7 16.7"/>
<path d="M1507.4 618.0l16.7 16.7m0-16.7l-16.7 16.7"/>
<path d="M1534.6 632.8l16.7 16.7m0-16.7l-16.7 16.7"/>
<path d="M1564.0 652.6l16.7 16.7m0-16.7l-16.7 16.7"/>
<path d="M1578.6 672.3l16.7 16.7m0-16.7l-16.7 16.7"/>
<path d="M1578.6 672.3l16.7 16.7m0-16.7l-16.7 16.7"/>
<path d="M1578.6 677.3l16.7 16.7m0-16.7l-16.7 16.7"/>
<path d="M1578.6 677.3l16.7 16.7m0-16.7l-16.7 16.7"/>
<path d="M1578.6 711.8l16.7 16.7m0-16.7l-16.7 16.7"/>
<path d="M1578.6 711.8l16.7 16.7m0-16.7l-16.7 16.7"/>
<path d="M1578.6 716.7l16.7 16.7m0-16.7l-16.7 16.7"/>
<path d="M1578.6 716.7l16.7 16.7m0-16.7l-16.7 16.7"/>
<path d="M1564.0 736.5l16.7 16.7m0-16.7l-16.7 16.7"/>
<path d="M1564.0 736.5l16.7 16.7m0-16.7l-16.7 16.7"/>
<path d="M1564.0 741.4l16.7 16.7m0-16.7l-16.7 16.7"/>
<path d="M1550.3 751.3l16.7 16.7m0-16.7l-16.7 16.7"/>
<path d="M1550.3 751.3l16.7 16.7m0-16.7l-16.7 16.7"/>
<path d="M1550.3 751.3l16.7 16.7m0-16.7l-16.7 16.7"/>
<path d="M1521.0 771.1l16.7 16.7m0-16.7l-16.7 16.7"/>
<path d="M1521.0 776.0l16.7 16.7m0-16.7l-16.7 16.7"/>
<path d="M1307.3 736.5l16.7 16.7m0-16.7l-16.7 16.7"/>
<path d="M1307.3 736.5l16.7 16.7m0-16.7l-16.7 16.7"/>
<path d="M1307.3 736.5l16.7 16.7m0-16.7l-16.7 16.7"/>
<path d="M1321.9 746.4l16.7 16.7m0-16.7l-16.7 16.7"/>
<path d="M1293.7 785.9l16.7 16.7m0-16.7l-16.7 16.7"/>
<path d="M1293.7 785.9l16.7 16.7m0-16.7l-16.7 16.7"/>
<path d="M1293.7 785.9l16.7 16.7m0-16.7l-16.7 16.7"/>
<path d="M1307.3 795.7l16.7 16.7m0-16.7l-16.7 16.7"/>
<path d="M1321.9 785.9l16.7 16.7m0-16.7l-16.7 16.7"/>
<path d="M1279.0 805.6l16.7 16.7m0-16.7l-16.7 16.7"/>
<path d="M1321.9 805.6l16.7 16.7m0-16.7l-16.7 16.7"/>
<path d="M1351.3 805.6l16.7 16.7m0-16.7l-16.7 16.7"/>
<path d="M1351.3 810.6l16.7 16.7m0-16.7l-16.7 16.7"/>
<path d="M1365.9 810.6l16.7 16.7m0-16.7l-16.7 16.7"/>
<path d="M1365.9 810.6l16.7 16.7m0-16.7l-16.7 16.7"/>
<path d="M1365.9 810.6l16.7 16.7m0-16.7l-16.7 16.7"/>
<path d="M1379.6 815.5l16.7 16.7m0-16.7l-16.7 16.7"/>
<path d="M1394.2 810.6l16.7 16.7m0-16.7l-16.7 16.7"/>
<path d="M1394.2 815.5l16.7 16.7m0-16.7l-16.7 16.7"/>
<path d="M1422.1 805.6l16.7 16.7m0-16.7l-16.7 16.7"/>
<path d="M1436.1 810.6l16.7 16.7m0-16.7l-16.7 16.7"/>
<path d="M1479.1 805.6l16.7 16.7m0-16.7l-16.7 16.7"/>
<path d="M1479.1 805.6l16.7 16.7m0-16.7l-16.7 16.7"/>
<path d="M1479.1 805.6l16.7 16.7m0-16.7l-16.7 16.7"/>
<path d="M1507.4 805.6l16.7 16.7m0-16.7l-16.7 16.7"/>
<path d="M1507.4 805.6l16.7 16.7m0-16.7l-16.7 16.7"/>
<path d="M1507.4 805.6l16.7 16.7m0-16.7l-16.7 16.7"/>
<path d="M1507.4 810.6l16.7 16.7m0-16.7l-16.7 16.7"/>
<path d="M1507.4 810.6l16.7 16.7m0-16.7l-16.7 16.7"/>
<path d="M1521.0 815.5l16.7 16.7m0-16.7l-16.7 16.7"/>
<path d="M1534.6 815.5l16.7 16.7m0-16.7l-16.7 16.7"/>
<path d="M1249.8 830.3l16.7 16.7m0-16.7l-16.7 16.7"/>
<path d="M1249.8 830.3l16.7 16.7m0-16.7l-16.7 16.7"/>
<path d="M1293.9 830.3l16.7 16.7m0-16.7l-16.7 16.7"/>
<path d="M1307.5 830.3l16.7 16.7m0-16.7l-16.7 16.7"/>
<path d="M1307.5 830.3l16.7 16.7m0-16.7l-16.7 16.7"/>
<path d="M1322.1 830.3l16.7 16.7m0-16.7l-16.7 16.7"/>
<path d="M1407.0 855.0l16.7 16.7m0-16.7l-16.7 16.7"/>
<path d="M1421.7 855.0l16.7 16.7m0-16.7l-16.7 16.7"/>
<path d="M1407.0 825.4l16.7 16.7m0-16.7l-16.7 16.7"/>
<path d="M1421.7 830.3l16.7 16.7m0-16.7l-16.7 16.7"/>
<path d="M1436.3 830.3l16.7 16.7m0-16.7l-16.7 16.7"/>
<path d="M1450.0 840.2l16.7 16.7m0-16.7l-16.7 16.7"/>
<path d="M1450.0 850.0l16.7 16.7m0-16.7l-16.7 16.7"/>
<path d="M1463.6 845.1l16.7 16.7m0-16.7l-16.7 16.7"/>
<path d="M1478.3 855.0l16.7 16.7m0-16.7l-16.7 16.7"/>
<path d="M1492.9 859.9l16.7 16.7m0-16.7l-16.7 16.7"/>
<path d="M1507.6 859.9l16.7 16.7m0-16.7l-16.7 16.7"/>
<path d="M1522.3 859.9l16.7 16.7m0-16.7l-16.7 16.7"/>
<path d="M1535.9 859.9l16.7 16.7m0-16.7l-16.7 16.7"/>
<path d="M1507.6 825.4l16.7 16.7m0-16.7l-16.7 16.7"/>
<path d="M1522.3 825.4l16.7 16.7m0-16.7l-16.7 16.7"/>
<path d="M1535.9 830.3l16.7 16.7m0-16.7l-16.7 16.7"/>
<path d="M1550.5 830.3l16.7 16.7m0-16.7l-16.7 16.7"/>
<path d="M1606.8 835.2l16.7 16.7m0-16.7l-16.7 16.7"/>
<path d="M1606.8 835.2l16.7 16.7m0-16.7l-16.7 16.7"/>
<path d="M1606.8 835.2l16.7 16.7m0-16.7l-16.7 16.7"/>
<path d="M1620.2 845.1l16.7 16.7m0-16.7l-16.7 16.7"/>
<path d="M1592.0 855.0l16.7 16.7m0-16.7l-16.7 16.7"/>
<path d="M1579.2 859.9l16.7 16.7m0-16.7l-16.7 16.7"/>
<path d="M1563.9 859.9l16.7 16.7m0-16.7l-16.7 16.7"/>
<path d="M1563.9 845.1l16.7 16.7m0-16.7l-16.7 16.7"/>
<path d="M1563.9 845.1l16.7 16.7m0-16.7l-16.7 16.7"/>
<path d="M866.1 228.0l16.7 16.7m0-16.7l-16.7 16.7"/>
<path d="M866.1 228.0l16.7 16.7m0-16.7l-16.7 16.7"/>
<path d="M866.1 242.8l16.7 16.7m0-16.7l-16.7 16.7"/>
<path d="M866.1 242.8l16.7 16.7m0-16.7l-16.7 16.7"/>
<path d="M866.1 247.7l16.7 16.7m0-16.7l-16.7 16.7"/>
<path d="M866.1 247.7l16.7 16.7m0-16.7l-16.7 16.7"/>
<path d="M936.6 228.0l16.7 16.7m0-16.7l-16.7 16.7"/>
<path d="M936.6 252.7l16.7 16.7m0-16.7l-16.7 16.7"/>
<path d="M936.6 252.7l16.7 16.7m0-16.7l-16.7 16.7"/>
<path d="M952.6 228.0l16.7 16.7m0-16.7l-16.7 16.7"/>
<path d="M952.6 228.0l16.7 16.7m0-16.7l-16.7 16.7"/>
<path d="M1064.7 228.0l16.7 16.7m0-16.7l-16.7 16.7"/>
<path d="M1064.7 228.0l16.7 16.7m0-16.7l-16.7 16.7"/>
<path d="M1079.2 228.0l16.7 16.7m0-16.7l-16.7 16.7"/>
<path d="M1079.2 228.0l16.7 16.7m0-16.7l-16.7 16.7"/>
<path d="M937.9 104.6l16.7 16.7m0-16.7l-16.7 16.7"/>
<path d="M966.7 109.5l16.7 16.7m0-16.7l-16.7 16.7"/>
<path d="M994.2 109.5l16.7 16.7m0-16.7l-16.7 16.7"/>
<path d="M1009.0 114.4l16.7 16.7m0-16.7l-16.7 16.7"/>
<path d="M1009.0 114.4l16.7 16.7m0-16.7l-16.7 16.7"/>
<path d="M1009.0 114.4l16.7 16.7m0-16.7l-16.7 16.7"/>
<path d="M1021.8 104.6l16.7 16.7m0-16.7l-16.7 16.7"/>
<path d="M1021.8 109.5l16.7 16.7m0-16.7l-16.7 16.7"/>
<path d="M1021.8 109.5l16.7 16.7m0-16.7l-16.7 16.7"/>
<path d="M1050.6 104.6l16.7 16.7m0-16.7l-16.7 16.7"/>
<path d="M1050.6 109.5l16.7 16.7m0-16.7l-16.7 16.7"/>
<path d="M1066.0 119.4l16.7 16.7m0-16.7l-16.7 16.7"/>
<path d="M1066.0 119.4l16.7 16.7m0-16.7l-16.7 16.7"/>
<path d="M1066.0 119.4l16.7 16.7m0-16.7l-16.7 16.7"/>
<path d="M1080.7 124.3l16.7 16.7m0-16.7l-16.7 16.7"/>
<path d="M1108.9 129.2l16.7 16.7m0-16.7l-16.7 16.7"/>
<path d="M1108.9 144.1l16.7 16.7m0-16.7l-16.7 16.7"/>
<path d="M1122.9 129.2l16.7 16.7m0-16.7l-16.7 16.7"/>
<path d="M1122.9 144.1l16.7 16.7m0-16.7l-16.7 16.7"/>
<path d="M952.6 129.2l16.7 16.7m0-16.7l-16.7 16.7"/>
<path d="M966.7 129.2l16.7 16.7m0-16.7l-16.7 16.7"/>
<path d="M980.8 129.2l16.7 16.7m0-16.7l-16.7 16.7"/>
<path d="M994.2 129.2l16.7 16.7m0-16.7l-16.7 16.7"/>
<path d="M1009.0 129.2l16.7 16.7m0-16.7l-16.7 16.7"/>
<path d="M1021.8 129.2l16.7 16.7m0-16.7l-16.7 16.7"/>
<path d="M1021.8 129.2l16.7 16.7m0-16.7l-16.7 16.7"/>
<path d="M1036.5 129.2l16.7 16.7m0-16.7l-16.7 16.7"/>
<path d="M1050.6 134.2l16.7 16.7m0-16.7l-16.7 16.7"/>
<path d="M923.8 188.5l16.7 16.7m0-16.7l-16.7 16.7"/>
<path d="M952.6 193.4l16.7 16.7m0-16.7l-16.7 16.7"/>
<path d="M966.7 193.4l16.7 16.7m0-16.7l-16.7 16.7"/>
<path d="M980.8 193.4l16.7 16.7m0-16.7l-16.7 16.7"/>
<path d="M937.9 203.3l16.7 16.7m0-16.7l-16.7 16.7"/>
<path d="M952.6 208.2l16.7 16.7m0-16.7l-16.7 16.7"/>
<path d="M1021.8 193.4l16.7 16.7m0-16.7l-16.7 16.7"/>
<path d="M1050.6 193.4l16.7 16.7m0-16.7l-16.7 16.7"/>
<path d="M1050.6 198.4l16.7 16.7m0-16.7l-16.7 16.7"/>
<path d="M1094.1 188.5l16.7 16.7m0-16.7l-16.7 16.7"/>
<path d="M1122.9 188.5l16.7 16.7m0-16.7l-16.7 16.7"/>
<path d="M1066.0 198.4l16.7 16.7m0-16.7l-16.7 16.7"/>
<path d="M1094.1 198.4l16.7 16.7m0-16.7l-16.7 16.7"/>
<path d="M1094.1 198.4l16.7 16.7m0-16.7l-16.7 16.7"/>
<path d="M1122.9 198.4l16.7 16.7m0-16.7l-16.7 16.7"/>
<path d="M1009.0 208.2l16.7 16.7m0-16.7l-16.7 16.7"/>
<path d="M1009.0 208.2l16.7 16.7m0-16.7l-16.7 16.7"/>
<path d="M1009.0 208.2l16.7 16.7m0-16.7l-16.7 16.7"/>
<path d="M1021.8 218.1l16.7 16.7m0-16.7l-16.7 16.7"/>
<path d="M1122.9 223.0l16.7 16.7m0-16.7l-16.7 16.7"/>
<path d="M923.8 257.6l16.7 16.7m0-16.7l-16.7 16.7"/>
<path d="M923.8 262.5l16.7 16.7m0-16.7l-16.7 16.7"/>
<path d="M1035.2 228.0l16.7 16.7m0-16.7l-16.7 16.7"/>
<path d="M1050.6 257.6l16.7 16.7m0-16.7l-16.7 16.7"/>
<path d="M1066.0 262.5l16.7 16.7m0-16.7l-16.7 16.7"/>
<path d="M1122.9 257.6l16.7 16.7m0-16.7l-16.7 16.7"/>
<path d="M937.3 282.3l16.7 16.7m0-16.7l-16.7 16.7"/>
<path d="M937.3 282.3l16.7 16.7m0-16.7l-16.7 16.7"/>
<path d="M966.7 282.3l16.7 16.7m0-16.7l-16.7 16.7"/>
<path d="M966.7 282.3l16.7 16.7m0-16.7l-16.7 16.7"/>
<path d="M980.8 282.3l16.7 16.7m0-16.7l-16.7 16.7"/>
<path d="M980.8 277.4l16.7 16.7m0-16.7l-16.7 16.7"/>
<path d="M994.2 267.5l16.7 16.7m0-16.7l-16.7 16.7"/>
<path d="M994.2 282.3l16.7 16.7m0-16.7l-16.7 16.7"/>
<path d="M1009.0 282.3l16.7 16.7m0-16.7l-16.7 16.7"/>
<path d="M1021.8 282.3l16.7 16.7m0-16.7l-16.7 16.7"/>
<path d="M1050.6 292.2l16.7 16.7m0-16.7l-16.7 16.7"/>
<path d="M1050.6 292.2l16.7 16.7m0-16.7l-16.7 16.7"/>
<path d="M1050.6 292.2l16.7 16.7m0-16.7l-16.7 16.7"/>
<path d="M1094.1 297.1l16.7 16.7m0-16.7l-16.7 16.7"/>
<path d="M1094.1 297.1l16.7 16.7m0-16.7l-16.7 16.7"/>
<path d="M1094.1 297.1l16.7 16.7m0-16.7l-16.7 16.7"/>
<path d="M1021.8 297.1l16.7 16.7m0-16.7l-16.7 16.7"/>
<path d="M966.7 307.0l16.7 16.7m0-16.7l-16.7 16.7"/>
<path d="M966.7 307.0l16.7 16.7m0-16.7l-16.7 16.7"/>
<path d="M966.7 307.0l16.7 16.7m0-16.7l-16.7 16.7"/>
<path d="M994.2 307.0l16.7 16.7m0-16.7l-16.7 16.7"/>
<path d="M952.6 302.0l16.7 16.7m0-16.7l-16.7 16.7"/>
<path d="M923.8 297.1l16.7 16.7m0-16.7l-16.7 16.7"/>
<path d="M914.2 292.2l16.7 16.7m0-16.7l-16.7 16.7"/>
<path d="M1021.8 316.9l16.7 16.7m0-16.7l-16.7 16.7"/>
<path d="M1036.5 311.9l16.7 16.7m0-16.7l-16.7 16.7"/>
<path d="M1050.6 316.9l16.7 16.7m0-16.7l-16.7 16.7"/>
<path d="M1050.6 321.8l16.7 16.7m0-16.7l-16.7 16.7"/>
<path d="M1066.0 321.8l16.7 16.7m0-16.7l-16.7 16.7"/>
<path d="M1080.7 321.8l16.7 16.7m0-16.7l-16.7 16.7"/>
<path d="M1094.1 311.9l16.7 16.7m0-16.7l-16.7 16.7"/>
<path d="M937.3 361.3l16.7 16.7m0-16.7l-16.7 16.7"/>
<path d="M937.3 366.2l16.7 16.7m0-16.7l-16.7 16.7"/>
<path d="M952.6 361.3l16.7 16.7m0-16.7l-16.7 16.7"/>
<path d="M966.7 361.3l16.7 16.7m0-16.7l-16.7 16.7"/>
<path d="M994.2 361.3l16.7 16.7m0-16.7l-16.7 16.7"/>
<path d="M1009.0 361.3l16.7 16.7m0-16.7l-16.7 16.7"/>
<path d="M1021.8 361.3l16.7 16.7m0-16.7l-16.7 16.7"/>
<path d="M1036.5 361.3l16.7 16.7m0-16.7l-16.7 16.7"/>
<path d="M1036.5 361.3l16.7 16.7m0-16.7l-16.7 16.7"/>
<path d="M1036.5 361.3l16.7 16.7m0-16.7l-16.7 16.7"/>
<path d="M1050.6 361.3l16.7 16.7m0-16.7l-16.7 16.7"/>
<path d="M1080.7 361.3l16.7 16.7m0-16.7l-16.7 16.7"/>
<path d="M1108.9 361.3l16.7 16.7m0-16.7l-16.7 16.7"/>
<path d="M1122.9 361.3l16.7 16.7m0-16.7l-16.7 16.7"/>
<path d="M1122.9 361.3l16.7 16.7m0-16.7l-16.7 16.7"/>
<path d="M1136.1 129.2l16.7 16.7m0-16.7l-16.7 16.7"/>
<path d="M1193.8 134.2l16.7 16.7m0-16.7l-16.7 16.7"/>
<path d="M1193.8 139.1l16.7 16.7m0-16.7l-16.7 16.7"/>
<path d="M1136.1 149.0l16.7 16.7m0-16.7l-16.7 16.7"/>
<path d="M1150.2 144.1l16.7 16.7m0-16.7l-16.7 16.7"/>
<path d="M1165.6 149.0l16.7 16.7m0-16.7l-16.7 16.7"/>
<path d="M1165.6 158.9l16.7 16.7m0-16.7l-16.7 16.7"/>
<path d="M1193.8 168.7l16.7 16.7m0-16.7l-16.7 16.7"/>
<path d="M1193.8 173.7l16.7 16.7m0-16.7l-16.7 16.7"/>
<path d="M1209.1 178.6l16.7 16.7m0-16.7l-16.7 16.7"/>
<path d="M1221.9 188.5l16.7 16.7m0-16.7l-16.7 16.7"/>
<path d="M1250.1 203.3l16.7 16.7m0-16.7l-16.7 16.7"/>
<path d="M1250.1 208.2l16.7 16.7m0-16.7l-16.7 16.7"/>
<path d="M1265.5 213.2l16.7 16.7m0-16.7l-16.7 16.7"/>
<path d="M1265.5 223.0l16.7 16.7m0-16.7l-16.7 16.7"/>
<path d="M1265.5 223.0l16.7 16.7m0-16.7l-16.7 16.7"/>
<path d="M1293.6 228.0l16.7 16.7m0-16.7l-16.7 16.7"/>
<path d="M1307.7 228.0l16.7 16.7m0-16.7l-16.7 16.7"/>
<path d="M1322.5 218.1l16.7 16.7m0-16.7l-16.7 16.7"/>
<path d="M1136.1 188.5l16.7 16.7m0-16.7l-16.7 16.7"/>
<path d="M1136.1 193.4l16.7 16.7m0-16.7l-16.7 16.7"/>
<path d="M1179.0 193.4l16.7 16.7m0-16.7l-16.7 16.7"/>
<path d="M1209.1 208.2l16.7 16.7m0-16.7l-16.7 16.7"/>
<path d="M1150.2 203.3l16.7 16.7m0-16.7l-16.7 16.7"/>
<path d="M1165.6 208.2l16.7 16.7m0-16.7l-16.7 16.7"/>
<path d="M1136.1 223.0l16.7 16.7m0-16.7l-16.7 16.7"/>
<path d="M1150.2 223.0l16.7 16.7m0-16.7l-16.7 16.7"/>
<path d="M1150.2 223.0l16.7 16.7m0-16.7l-16.7 16.7"/>
<path d="M1165.6 223.0l16.7 16.7m0-16.7l-16.7 16.7"/>
<path d="M1165.6 223.0l16.7 16.7m0-16.7l-16.7 16.7"/>
<path d="M1279.6 232.9l16.7 16.7m0-16.7l-16.7 16.7"/>
<path d="M1279.6 237.9l16.7 16.7m0-16.7l-16.7 16.7"/>
<path d="M1136.1 247.7l16.7 16.7m0-16.7l-16.7 16.7"/>
<path d="M1136.1 252.7l16.7 16.7m0-16.7l-16.7 16.7"/>
<path d="M1209.1 257.6l16.7 16.7m0-16.7l-16.7 16.7"/>
<path d="M1193.8 272.4l16.7 16.7m0-16.7l-16.7 16.7"/>
<path d="M1193.8 272.4l16.7 16.7m0-16.7l-16.7 16.7"/>
<path d="M1165.6 292.2l16.7 16.7m0-16.7l-16.7 16.7"/>
<path d="M1179.0 302.0l16.7 16.7m0-16.7l-16.7 16.7"/>
<path d="M1179.0 307.0l16.7 16.7m0-16.7l-16.7 16.7"/>
<path d="M1221.9 311.9l16.7 16.7m0-16.7l-16.7 16.7"/>
<path d="M1236.7 297.1l16.7 16.7m0-16.7l-16.7 16.7"/>
<path d="M1250.1 287.2l16.7 16.7m0-16.7l-16.7 16.7"/>
<path d="M1250.1 292.2l16.7 16.7m0-16.7l-16.7 16.7"/>
<path d="M1265.5 267.5l16.7 16.7m0-16.7l-16.7 16.7"/>
<path d="M1265.5 267.5l16.7 16.7m0-16.7l-16.7 16.7"/>
<path d="M1265.5 267.5l16.7 16.7m0-16.7l-16.7 16.7"/>
<path d="M1265.5 292.2l16.7 16.7m0-16.7l-16.7 16.7"/>
<path d="M1307.7 272.4l16.7 16.7m0-16.7l-16.7 16.7"/>
<path d="M1307.7 277.4l16.7 16.7m0-16.7l-16.7 16.7"/>
<path d="M1322.5 257.6l16.7 16.7m0-16.7l-16.7 16.7"/>
<path d="M1193.8 326.7l16.7 16.7m0-16.7l-16.7 16.7"/>
<path d="M1193.8 331.7l16.7 16.7m0-16.7l-16.7 16.7"/>
<path d="M1221.9 336.6l16.7 16.7m0-16.7l-16.7 16.7"/>
<path d="M1221.9 336.6l16.7 16.7m0-16.7l-16.7 16.7"/>
<path d="M1150.2 356.3l16.7 16.7m0-16.7l-16.7 16.7"/>
<path d="M1179.0 356.3l16.7 16.7m0-16.7l-16.7 16.7"/>
<path d="M1179.0 356.3l16.7 16.7m0-16.7l-16.7 16.7"/>
<path d="M1179.0 356.3l16.7 16.7m0-16.7l-16.7 16.7"/>
<path d="M1179.0 351.4l16.7 16.7m0-16.7l-16.7 16.7"/>
<path d="M210.7 943.9l16.7 16.7m0-16.7l-16.7 16.7"/>
</g>
<g class="f">
<path d="M268.1 168.7l16.7 16.7m0-16.7l-16.7 16.7"/>
<path d="M282.8 183.6l16.7 16.7m0-16.7l-16.7 16.7"/>
<path d="M282.8 183.6l16.7 16.7m0-16.7l-16.7 16.7"/>
<path d="M296.4 193.4l16.7 16.7m0-16.7l-16.7 16.7"/>
<path d="M324.1 149.0l16.7 16.7m0-16.7l-16.7 16.7"/>
<path d="M324.1 149.0l16.7 16.7m0-16.7l-16.7 16.7"/>
<path d="M339.0 149.0l16.7 16.7m0-16.7l-16.7 16.7"/>
<path d="M339.0 163.8l16.7 16.7m0-16.7l-16.7 16.7"/>
<path d="M339.0 163.8l16.7 16.7m0-16.7l-16.7 16.7"/>
<path d="M368.1 119.4l16.7 16.7m0-16.7l-16.7 16.7"/>
<path d="M382.8 119.4l16.7 16.7m0-16.7l-16.7 16.7"/>
<path d="M411.0 129.2l16.7 16.7m0-16.7l-16.7 16.7"/>
<path d="M411.0 129.2l16.7 16.7m0-16.7l-16.7 16.7"/>
<path d="M438.9 144.1l16.7 16.7m0-16.7l-16.7 16.7"/>
<path d="M438.9 144.1l16.7 16.7m0-16.7l-16.7 16.7"/>
<path d="M438.9 144.1l16.7 16.7m0-16.7l-16.7 16.7"/>
<path d="M423.8 158.9l16.7 16.7m0-16.7l-16.7 16.7"/>
<path d="M423.8 163.8l16.7 16.7m0-16.7l-16.7 16.7"/>
<path d="M423.8 163.8l16.7 16.7m0-16.7l-16.7 16.7"/>
<path d="M423.8 163.8l16.7 16.7m0-16.7l-16.7 16.7"/>
<path d="M452.5 134.2l16.7 16.7m0-16.7l-16.7 16.7"/>
<path d="M481.2 173.7l16.7 16.7m0-16.7l-16.7 16.7"/>
<path d="M481.2 173.7l16.7 16.7m0-16.7l-16.7 16.7"/>
<path d="M467.8 198.4l16.7 16.7m0-16.7l-16.7 16.7"/>
<path d="M467.8 198.4l16.7 16.7m0-16.7l-16.7 16.7"/>
<path d="M481.2 218.1l16.7 16.7m0-16.7l-16.7 16.7"/>
<path d="M495.9 218.1l16.7 16.7m0-16.7l-16.7 16.7"/>
<path d="M524.8 213.2l16.7 16.7m0-16.7l-16.7 16.7"/>
<path d="M539.5 208.2l16.7 16.7m0-16.7l-16.7 16.7"/>
<path d="M539.5 213.2l16.7 16.7m0-16.7l-16.7 16.7"/>
<path d="M438.9 228.0l16.7 16.7m0-16.7l-16.7 16.7"/>
<path d="M423.8 228.0l16.7 16.7m0-16.7l-16.7 16.7"/>
<path d="M411.0 232.9l16.7 16.7m0-16.7l-16.7 16.7"/>
<path d="M396.0 237.9l16.7 16.7m0-16.7l-16.7 16.7"/>
<path d="M396.0 237.9l16.7 16.7m0-16.7l-16.7 16.7"/>
<path d="M368.1 257.6l16.7 16.7m0-16.7l-16.7 16.7"/>
<path d="M324.1 267.5l16.7 16.7m0-16.7l-16.7 16.7"/>
<path d="M324.1 267.5l16.7 16.7m0-16.7l-16.7 16.7"/>
<path d="M311.1 272.4l16.7 16.7m0-16.7l-16.7 16.7"/>
<path d="M254.5 257.6l16.7 16.7m0-16.7l-16.7 16.7"/>
<path d="M382.8 272.4l16.7 16.7m0-16.7l-16.7 16.7"/>
<path d="M382.8 272.4l16.7 16.7m0-16.7l-16.7 16.7"/>
<path d="M382.8 277.4l16.7 16.7m0-16.7l-16.7 16.7"/>
<path d="M423.8 272.4l16.7 16.7m0-16.7l-16.7 16.7"/>
<path d="M438.9 272.4l16.7 16.7m0-16.7l-16.7 16.7"/>
<path d="M438.9 277.4l16.7 16.7m0-16.7l-16.7 16.7"/>
<path d="M438.9 277.4l16.7 16.7m0-16.7l-16.7 16.7"/>
<path d="M438.9 277.4l16.7 16.7m0-16.7l-16.7 16.7"/>
<path d="M452.5 282.3l16.7 16.7m0-16.7l-16.7 16.7"/>
<path d="M467.8 267.5l16.7 16.7m0-16.7l-16.7 16.7"/>
<path d="M467.8 272.4l16.7 16.7m0-16.7l-16.7 16.7"/>
<path d="M467.8 282.3l16.7 16.7m0-16.7l-16.7 16.7"/>
<path d="M481.2 262.5l16.7 16.7m0-16.7l-16.7 16.7"/>
<path d="M481.2 262.5l16.7 16.7m0-16.7l-16.7 16.7"/>
<path d="M481.2 282.3l16.7 16.7m0-16.7l-16.7 16.7"/>
<path d="M495.9 252.7l16.7 16.7m0-16.7l-16.7 16.7"/>
<path d="M495.9 252.7l16.7 16.7m0-16.7l-16.7 16.7"/>
<path d="M510.2 242.8l16.7 16.7m0-16.7l-16.7 16.7"/>
<path d="M524.8 237.9l16.7 16.7m0-16.7l-16.7 16.7"/>
<path d="M495.9 282.3l16.7 16.7m0-16.7l-16.7 16.7"/>
<path d="M510.2 282.3l16.7 16.7m0-16.7l-16.7 16.7"/>
<path d="M268.1 321.8l16.7 16.7m0-16.7l-16.7 16.7"/>
<path d="M467.8 346.5l16.7 16.7m0-16.7l-16.7 16.7"/>
<path d="M467.8 356.3l16.7 16.7m0-16.7l-16.7 16.7"/>
<path d="M467.8 356.3l16.7 16.7m0-16.7l-16.7 16.7"/>
<path d="M467.8 361.3l16.7 16.7m0-16.7l-16.7 16.7"/>
<path d="M467.8 361.3l16.7 16.7m0-16.7l-16.7 16.7"/>
<path d="M467.8 366.2l16.7 16.7m0-16.7l-16.7 16.7"/>
<path d="M467.8 386.0l16.7 16.7m0-16.7l-16.7 16.7"/>
<path d="M467.8 386.0l16.7 16.7m0-16.7l-16.7 16.7"/>
<path d="M467.8 386.0l16.7 16.7m0-16.7l-16.7 16.7"/>
<path d="M482.9 386.0l16.7 16.7m0-16.7l-16.7 16.7"/>
<path d="M524.8 390.9l16.7 16.7m0-16.7l-16.7 16.7"/>
<path d="M452.5 405.7l16.7 16.7m0-16.7l-16.7 16.7"/>
<path d="M423.8 425.5l16.7 16.7m0-16.7l-16.7 16.7"/>
<path d="M239.4 460.0l16.7 16.7m0-16.7l-16.7 16.7"/>
<path d="M268.1 489.6l16.7 16.7m0-16.7l-16.7 16.7"/>
<path d="M296.4 514.3l16.7 16.7m0-16.7l-16.7 16.7"/>
<path d="M354.0 519.3l16.7 16.7m0-16.7l-16.7 16.7"/>
<path d="M354.0 519.3l16.7 16.7m0-16.7l-16.7 16.7"/>
<path d="M368.1 519.3l16.7 16.7m0-16.7l-16.7 16.7"/>
<path d="M368.1 519.3l16.7 16.7m0-16.7l-16.7 16.7"/>
<path d="M368.1 524.2l16.7 16.7m0-16.7l-16.7 16.7"/>
<path d="M368.1 524.2l16.7 16.7m0-16.7l-16.7 16.7"/>
<path d="M396.0 514.3l16.7 16.7m0-16.7l-16.7 16.7"/>
<path d="M396.0 519.3l16.7 16.7m0-16.7l-16.7 16.7"/>
<path d="M452.5 519.3l16.7 16.7m0-16.7l-16.7 16.7"/>
<path d="M553.7 208.2l16.7 16.7m0-16.7l-16.7 16.7"/>
<path d="M568.0 213.2l16.7 16.7m0-16.7l-16.7 16.7"/>
<path d="M582.2 213.2l16.7 16.7m0-16.7l-16.7 16.7"/>
<path d="M582.2 213.2l16.7 16.7m0-16.7l-16.7 16.7"/>
<path d="M582.2 228.0l16.7 16.7m0-16.7l-16.7 16.7"/>
<path d="M653.5 252.7l16.7 16.7m0-16.7l-16.7 16.7"/>
<path d="M667.7 213.2l16.7 16.7m0-16.7l-16.7 16.7"/>
<path d="M667.7 267.5l16.7 16.7m0-16.7l-16.7 16.7"/>
<path d="M667.7 277.4l16.7 16.7m0-16.7l-16.7 16.7"/>
<path d="M667.7 277.4l16.7 16.7m0-16.7l-16.7 16.7"/>
<path d="M696.2 287.2l16.7 16.7m0-16.7l-16.7 16.7"/>
<path d="M696.2 287.2l16.7 16.7m0-16.7l-16.7 16.7"/>
<path d="M710.5 223.0l16.7 16.7m0-16.7l-16.7 16.7"/>
<path d="M710.5 228.0l16.7 16.7m0-16.7l-16.7 16.7"/>
<path d="M710.5 228.0l16.7 16.7m0-16.7l-16.7 16.7"/>
<path d="M710.5 292.2l16.7 16.7m0-16.7l-16.7 16.7"/>
<path d="M724.7 208.2l16.7 16.7m0-16.7l-16.7 16.7"/>
<path d="M724.7 287.2l16.7 16.7m0-16.7l-16.7 16.7"/>
<path d="M724.7 292.2l16.7 16.7m0-16.7l-16.7 16.7"/>
<path d="M739.0 193.4l16.7 16.7m0-16.7l-16.7 16.7"/>
<path d="M739.0 198.4l16.7 16.7m0-16.7l-16.7 16.7"/>
<path d="M739.0 297.1l16.7 16.7m0-16.7l-16.7 16.7"/>
<path d="M753.2 183.6l16.7 16.7m0-16.7l-16.7 16.7"/>
<path d="M753.2 183.6l16.7 16.7m0-16.7l-16.7 16.7"/>
<path d="M753.2 307.0l16.7 16.7m0-16.7l-16.7 16.7"/>
<path d="M767.5 178.6l16.7 16.7m0-16.7l-16.7 16.7"/>
<path d="M767.5 178.6l16.7 16.7m0-16.7l-16.7 16.7"/>
<path d="M767.5 208.2l16.7 16.7m0-16.7l-16.7 16.7"/>
<path d="M767.5 257.6l16.7 16.7m0-16.7l-16.7 16.7"/>
<path d="M781.7 168.7l16.7 16.7m0-16.7l-16.7 16.7"/>
<path d="M781.7 198.4l16.7 16.7m0-16.7l-16.7 16.7"/>
<path d="M781.7 267.5l16.7 16.7m0-16.7l-16.7 16.7"/>
<path d="M781.7 277.4l16.7 16.7m0-16.7l-16.7 16.7"/>
<path d="M781.7 311.9l16.7 16.7m0-16.7l-16.7 16.7"/>
<path d="M796.0 158.9l16.7 16.7m0-16.7l-16.7 16.7"/>
<path d="M796.0 163.8l16.7 16.7m0-16.7l-16.7 16.7"/>
<path d="M796.0 193.4l16.7 16.7m0-16.7l-16.7 16.7"/>
<path d="M796.0 193.4l16.7 16.7m0-16.7l-16.7 16.7"/>
<path d="M796.0 223.0l16.7 16.7m0-16.7l-16.7 16.7"/>
<path d="M796.0 237.9l16.7 16.7m0-16.7l-16.7 16.7"/>
<path d="M796.0 287.2l16.7 16.7m0-16.7l-16.7 16.7"/>
<path d="M796.0 307.0l16.7 16.7m0-16.7l-16.7 16.7"/>
<path d="M810.2 134.2l16.7 16.7m0-16.7l-16.7 16.7"/>
<path d="M810.2 139.1l16.7 16.7m0-16.7l-16.7 16.7"/>
<path d="M810.2 139.1l16.7 16.7m0-16.7l-16.7 16.7"/>
<path d="M810.2 158.9l16.7 16.7m0-16.7l-16.7 16.7"/>
<path d="M810.2 232.9l16.7 16.7m0-16.7l-16.7 16.7"/>
<path d="M810.2 232.9l16.7 16.7m0-16.7l-16.7 16.7"/>
<path d="M810.2 297.1l16.7 16.7m0-16.7l-16.7 16.7"/>
<path d="M824.5 124.3l16.7 16.7m0-16.7l-16.7 16.7"/>
<path d="M824.5 153.9l16.7 16.7m0-16.7l-16.7 16.7"/>
<path d="M824.5 153.9l16.7 16.7m0-16.7l-16.7 16.7"/>
<path d="M824.5 208.2l16.7 16.7m0-16.7l-16.7 16.7"/>
<path d="M824.5 223.0l16.7 16.7m0-16.7l-16.7 16.7"/>
<path d="M824.5 242.8l16.7 16.7m0-16.7l-16.7 16.7"/>
<path d="M824.5 242.8l16.7 16.7m0-16.7l-16.7 16.7"/>
<path d="M838.7 149.0l16.7 16.7m0-16.7l-16.7 16.7"/>
<path d="M838.7 203.3l16.7 16.7m0-16.7l-16.7 16.7"/>
<path d="M838.7 257.6l16.7 16.7m0-16.7l-16.7 16.7"/>
<path d="M853.0 124.3l16.7 16.7m0-16.7l-16.7 16.7"/>
<path d="M853.0 183.6l16.7 16.7m0-16.7l-16.7 16.7"/>
<path d="M853.0 203.3l16.7 16.7m0-16.7l-16.7 16.7"/>
<path d="M867.2 183.6l16.7 16.7m0-16.7l-16.7 16.7"/>
<path d="M867.2 183.6l16.7 16.7m0-16.7l-16.7 16.7"/>
<path d="M867.2 203.3l16.7 16.7m0-16.7l-16.7 16.7"/>
<path d="M867.2 262.5l16.7 16.7m0-16.7l-16.7 16.7"/>
<path d="M867.2 302.0l16.7 16.7m0-16.7l-16.7 16.7"/>
<path d="M867.2 302.0l16.7 16.7m0-16.7l-16.7 16.7"/>
<path d="M881.5 119.4l16.7 16.7m0-16.7l-16.7 16.7"/>
<path d="M881.5 139.1l16.7 16.7m0-16.7l-16.7 16.7"/>
<path d="M881.5 183.6l16.7 16.7m0-16.7l-16.7 16.7"/>
<path d="M881.5 297.1l16.7 16.7m0-16.7l-16.7 16.7"/>
<path d="M895.7 109.5l16.7 16.7m0-16.7l-16.7 16.7"/>
<path d="M895.7 119.4l16.7 16.7m0-16.7l-16.7 16.7"/>
<path d="M895.7 183.6l16.7 16.7m0-16.7l-16.7 16.7"/>
<path d="M895.7 267.5l16.7 16.7m0-16.7l-16.7 16.7"/>
<path d="M910.0 104.6l16.7 16.7m0-16.7l-16.7 16.7"/>
<path d="M910.0 119.4l16.7 16.7m0-16.7l-16.7 16.7"/>
<path d="M910.0 134.2l16.7 16.7m0-16.7l-16.7 16.7"/>
<path d="M910.0 134.2l16.7 16.7m0-16.7l-16.7 16.7"/>
<path d="M910.0 188.5l16.7 16.7m0-16.7l-16.7 16.7"/>
<path d="M910.0 297.1l16.7 16.7m0-16.7l-16.7 16.7"/>
<path d="M767.5 321.8l16.7 16.7m0-16.7l-16.7 16.7"/>
<path d="M767.5 321.8l16.7 16.7m0-16.7l-16.7 16.7"/>
<path d="M796.0 336.6l16.7 16.7m0-16.7l-16.7 16.7"/>
<path d="M796.0 356.3l16.7 16.7m0-16.7l-16.7 16.7"/>
<path d="M796.0 361.3l16.7 16.7m0-16.7l-16.7 16.7"/>
<path d="M810.2 326.7l16.7 16.7m0-16.7l-16.7 16.7"/>
<path d="M810.2 341.5l16.7 16.7m0-16.7l-16.7 16.7"/>
<path d="M824.5 346.5l16.7 16.7m0-16.7l-16.7 16.7"/>
<path d="M867.2 361.3l16.7 16.7m0-16.7l-16.7 16.7"/>
<path d="M910.0 366.2l16.7 16.7m0-16.7l-16.7 16.7"/>
<path d="M881.5 321.8l16.7 16.7m0-16.7l-16.7 16.7"/>
<path d="M796.0 376.1l16.7 16.7m0-16.7l-16.7 16.7"/>
<path d="M796.0 376.1l16.7 16.7m0-16.7l-16.7 16.7"/>
<path d="M810.2 381.0l16.7 16.7m0-16.7l-16.7 16.7"/>
<path d="M824.5 386.0l16.7 16.7m0-16.7l-16.7 16.7"/>
<path d="M824.5 386.0l16.7 16.7m0-16.7l-16.7 16.7"/>
<path d="M837.7 381.0l16.7 16.7m0-16.7l-16.7 16.7"/>
<path d="M837.7 386.0l16.7 16.7m0-16.7l-16.7 16.7"/>
<path d="M837.7 386.0l16.7 16.7m0-16.7l-16.7 16.7"/>
<path d="M853.0 390.9l16.7 16.7m0-16.7l-16.7 16.7"/>
<path d="M867.2 390.9l16.7 16.7m0-16.7l-16.7 16.7"/>
<path d="M881.5 390.9l16.7 16.7m0-16.7l-16.7 16.7"/>
<path d="M638.6 390.9l16.7 16.7m0-16.7l-16.7 16.7"/>
<path d="M638.6 390.9l16.7 16.7m0-16.7l-16.7 16.7"/>
<path d="M653.3 390.9l16.7 16.7m0-16.7l-16.7 16.7"/>
<path d="M682.0 390.9l16.7 16.7m0-16.7l-16.7 16.7"/>
<path d="M737.1 386.0l16.7 16.7m0-16.7l-16.7 16.7"/>
<path d="M753.2 390.9l16.7 16.7m0-16.7l-16.7 16.7"/>
<path d="M753.2 390.9l16.7 16.7m0-16.7l-16.7 16.7"/>
<path d="M767.5 400.8l16.7 16.7m0-16.7l-16.7 16.7"/>
<path d="M767.5 400.8l16.7 16.7m0-16.7l-16.7 16.7"/>
<path d="M781.7 410.7l16.7 16.7m0-16.7l-16.7 16.7"/>
<path d="M796.0 410.7l16.7 16.7m0-16.7l-16.7 16.7"/>
<path d="M810.2 425.5l16.7 16.7m0-16.7l-16.7 16.7"/>
<path d="M838.7 430.4l16.7 16.7m0-16.7l-16.7 16.7"/>
<path d="M867.2 435.3l16.7 16.7m0-16.7l-16.7 16.7"/>
<path d="M867.2 435.3l16.7 16.7m0-16.7l-16.7 16.7"/>
<path d="M555.8 519.3l16.7 16.7m0-16.7l-16.7 16.7"/>
<path d="M567.4 519.3l16.7 16.7m0-16.7l-16.7 16.7"/>
<path d="M582.0 519.3l16.7 16.7m0-16.7l-16.7 16.7"/>
<path d="M596.7 519.3l16.7 16.7m0-16.7l-16.7 16.7"/>
<path d="M596.7 519.3l16.7 16.7m0-16.7l-16.7 16.7"/>
<path d="M610.3 519.3l16.7 16.7m0-16.7l-16.7 16.7"/>
<path d="M610.3 519.3l16.7 16.7m0-16.7l-16.7 16.7"/>
<path d="M623.9 519.3l16.7 16.7m0-16.7l-16.7 16.7"/>
<path d="M623.9 519.3l16.7 16.7m0-16.7l-16.7 16.7"/>
<path d="M638.6 519.3l16.7 16.7m0-16.7l-16.7 16.7"/>
<path d="M638.6 519.3l16.7 16.7m0-16.7l-16.7 16.7"/>
<path d="M653.3 519.3l16.7 16.7m0-16.7l-16.7 16.7"/>
<path d="M696.2 524.2l16.7 16.7m0-16.7l-16.7 16.7"/>
<path d="M709.9 524.2l16.7 16.7m0-16.7l-16.7 16.7"/>
<path d="M724.5 529.1l16.7 16.7m0-16.7l-16.7 16.7"/>
<path d="M724.5 529.1l16.7 16.7m0-16.7l-16.7 16.7"/>
<path d="M737.1 514.3l16.7 16.7m0-16.7l-16.7 16.7"/>
<path d="M753.2 489.6l16.7 16.7m0-16.7l-16.7 16.7"/>
<path d="M753.2 494.6l16.7 16.7m0-16.7l-16.7 16.7"/>
<path d="M753.2 494.6l16.7 16.7m0-16.7l-16.7 16.7"/>
<path d="M767.5 484.7l16.7 16.7m0-16.7l-16.7 16.7"/>
<path d="M767.5 484.7l16.7 16.7m0-16.7l-16.7 16.7"/>
<path d="M781.7 469.9l16.7 16.7m0-16.7l-16.7 16.7"/>
<path d="M796.0 465.0l16.7 16.7m0-16.7l-16.7 16.7"/>
<path d="M810.2 455.1l16.7 16.7m0-16.7l-16.7 16.7"/>
<path d="M824.5 450.2l16.7 16.7m0-16.7l-16.7 16.7"/>
<path d="M753.2 336.6l16.7 16.7m0-16.7l-16.7 16.7"/>
<path d="M753.2 336.6l16.7 16.7m0-16.7l-16.7 16.7"/>
<path d="M737.1 578.5l16.7 16.7m0-16.7l-16.7 16.7"/>
<path d="M753.2 593.3l16.7 16.7m0-16.7l-16.7 16.7"/>
<path d="M767.5 603.2l16.7 16.7m0-16.7l-16.7 16.7"/>
<path d="M781.7 608.1l16.7 16.7m0-16.7l-16.7 16.7"/>
<path d="M781.7 613.1l16.7 16.7m0-16.7l-16.7 16.7"/>
<path d="M781.7 613.1l16.7 16.7m0-16.7l-16.7 16.7"/>
<path d="M781.7 613.1l16.7 16.7m0-16.7l-16.7 16.7"/>
<path d="M867.2 618.0l16.7 16.7m0-16.7l-16.7 16.7"/>
<path d="M881.5 618.0l16.7 16.7m0-16.7l-16.7 16.7"/>
<path d="M910.0 613.1l16.7 16.7m0-16.7l-16.7 16.7"/>
<path d="M910.0 618.0l16.7 16.7m0-16.7l-16.7 16.7"/>
<path d="M796.0 622.9l16.7 16.7m0-16.7l-16.7 16.7"/>
<path d="M810.2 632.8l16.7 16.7m0-16.7l-16.7 16.7"/>
<path d="M824.5 642.7l16.7 16.7m0-16.7l-16.7 16.7"/>
<path d="M824.5 647.6l16.7 16.7m0-16.7l-16.7 16.7"/>
<path d="M838.7 657.5l16.7 16.7m0-16.7l-16.7 16.7"/>
<path d="M853.0 667.4l16.7 16.7m0-16.7l-16.7 16.7"/>
<path d="M853.0 682.2l16.7 16.7m0-16.7l-16.7 16.7"/>
<path d="M853.0 682.2l16.7 16.7m0-16.7l-16.7 16.7"/>
<path d="M838.7 701.9l16.7 16.7m0-16.7l-16.7 16.7"/>
<path d="M838.7 701.9l16.7 16.7m0-16.7l-16.7 16.7"/>
<path d="M838.7 706.9l16.7 16.7m0-16.7l-16.7 16.7"/>
<path d="M824.5 726.6l16.7 16.7m0-16.7l-16.7 16.7"/>
<path d="M824.5 726.6l16.7 16.7m0-16.7l-16.7 16.7"/>
<path d="M824.5 726.6l16.7 16.7m0-16.7l-16.7 16.7"/>
<path d="M824.5 731.6l16.7 16.7m0-16.7l-16.7 16.7"/>
<path d="M824.5 731.6l16.7 16.7m0-16.7l-16.7 16.7"/>
<path d="M824.5 731.6l16.7 16.7m0-16.7l-16.7 16.7"/>
<path d="M824.5 736.5l16.7 16.7m0-16.7l-16.7 16.7"/>
<path d="M824.5 736.5l16.7 16.7m0-16.7l-16.7 16.7"/>
<path d="M824.5 736.5l16.7 16.7m0-16.7l-16.7 16.7"/>
<path d="M737.1 647.6l16.7 16.7m0-16.7l-16.7 16.7"/>
<path d="M724.5 657.5l16.7 16.7m0-16.7l-16.7 16.7"/>
<path d="M709.9 667.4l16.7 16.7m0-16.7l-16.7 16.7"/>
<path d="M696.2 701.9l16.7 16.7m0-16.7l-16.7 16.7"/>
<path d="M696.2 701.9l16.7 16.7m0-16.7l-16.7 16.7"/>
<path d="M709.9 736.5l16.7 16.7m0-16.7l-16.7 16.7"/>
<path d="M709.9 736.5l16.7 16.7m0-16.7l-16.7 16.7"/>
<path d="M709.9 741.4l16.7 16.7m0-16.7l-16.7 16.7"/>
<path d="M709.9 741.4l16.7 16.7m0-16.7l-16.7 16.7"/>
<path d="M709.9 746.4l16.7 16.7m0-16.7l-16.7 16.7"/>
<path d="M709.9 746.4l16.7 16.7m0-16.7l-16.7 16.7"/>
<path d="M709.9 756.2l16.7 16.7m0-16.7l-16.7 16.7"/>
<path d="M709.9 776.0l16.7 16.7m0-16.7l-16.7 16.7"/>
<path d="M709.9 776.0l16.7 16.7m0-16.7l-16.7 16.7"/>
<path d="M867.2 667.4l16.7 16.7m0-16.7l-16.7 16.7"/>
<path d="M867.2 667.4l16.7 16.7m0-16.7l-16.7 16.7"/>
<path d="M881.5 652.6l16.7 16.7m0-16.7l-16.7 16.7"/>
<path d="M881.5 652.6l16.7 16.7m0-16.7l-16.7 16.7"/>
<path d="M895.7 642.7l16.7 16.7m0-16.7l-16.7 16.7"/>
<path d="M895.7 642.7l16.7 16.7m0-16.7l-16.7 16.7"/>
<path d="M495.3 835.2l16.7 16.7m0-16.7l-16.7 16.7"/>
<path d="M495.3 840.2l16.7 16.7m0-16.7l-16.7 16.7"/>
<path d="M509.9 845.1l16.7 16.7m0-16.7l-16.7 16.7"/>
<path d="M509.9 845.1l16.7 16.7m0-16.7l-16.7 16.7"/>
<path d="M524.6 825.4l16.7 16.7m0-16.7l-16.7 16.7"/>
<path d="M524.6 835.2l16.7 16.7m0-16.7l-16.7 16.7"/>
<path d="M538.2 820.4l16.7 16.7m0-16.7l-16.7 16.7"/>
<path d="M538.2 830.3l16.7 16.7m0-16.7l-16.7 16.7"/>
<path d="M538.2 855.0l16.7 16.7m0-16.7l-16.7 16.7"/>
<path d="M538.2 859.9l16.7 16.7m0-16.7l-16.7 16.7"/>
<path d="M551.8 820.4l16.7 16.7m0-16.7l-16.7 16.7"/>
<path d="M551.8 845.1l16.7 16.7m0-16.7l-16.7 16.7"/>
<path d="M551.8 845.1l16.7 16.7m0-16.7l-16.7 16.7"/>
<path d="M551.8 855.0l16.7 16.7m0-16.7l-16.7 16.7"/>
<path d="M567.6 820.4l16.7 16.7m0-16.7l-16.7 16.7"/>
<path d="M567.6 820.4l16.7 16.7m0-16.7l-16.7 16.7"/>
<path d="M567.6 835.2l16.7 16.7m0-16.7l-16.7 16.7"/>
<path d="M567.6 835.2l16.7 16.7m0-16.7l-16.7 16.7"/>
<path d="M567.6 840.2l16.7 16.7m0-16.7l-16.7 16.7"/>
<path d="M567.6 855.0l16.7 16.7m0-16.7l-16.7 16.7"/>
<path d="M581.2 830.3l16.7 16.7m0-16.7l-16.7 16.7"/>
<path d="M595.9 835.2l16.7 16.7m0-16.7l-16.7 16.7"/>
<path d="M609.5 830.3l16.7 16.7m0-16.7l-16.7 16.7"/>
<path d="M609.5 850.0l16.7 16.7m0-16.7l-16.7 16.7"/>
<path d="M609.5 859.9l16.7 16.7m0-16.7l-16.7 16.7"/>
<path d="M624.1 830.3l16.7 16.7m0-16.7l-16.7 16.7"/>
<path d="M624.1 830.3l16.7 16.7m0-16.7l-16.7 16.7"/>
<path d="M624.1 840.2l16.7 16.7m0-16.7l-16.7 16.7"/>
<path d="M624.1 840.2l16.7 16.7m0-16.7l-16.7 16.7"/>
<path d="M624.1 845.1l16.7 16.7m0-16.7l-16.7 16.7"/>
<path d="M638.8 815.5l16.7 16.7m0-16.7l-16.7 16.7"/>
<path d="M638.8 855.0l16.7 16.7m0-16.7l-16.7 16.7"/>
<path d="M638.8 859.9l16.7 16.7m0-16.7l-16.7 16.7"/>
<path d="M652.4 840.2l16.7 16.7m0-16.7l-16.7 16.7"/>
<path d="M652.4 850.0l16.7 16.7m0-16.7l-16.7 16.7"/>
<path d="M652.4 855.0l16.7 16.7m0-16.7l-16.7 16.7"/>
<path d="M667.1 810.6l16.7 16.7m0-16.7l-16.7 16.7"/>
<path d="M667.1 835.2l16.7 16.7m0-16.7l-16.7 16.7"/>
<path d="M667.1 855.0l16.7 16.7m0-16.7l-16.7 16.7"/>
<path d="M680.7 795.7l16.7 16.7m0-16.7l-16.7 16.7"/>
<path d="M680.7 805.6l16.7 16.7m0-16.7l-16.7 16.7"/>
<path d="M680.7 850.0l16.7 16.7m0-16.7l-16.7 16.7"/>
<path d="M709.0 800.7l16.7 16.7m0-16.7l-16.7 16.7"/>
<path d="M709.0 805.6l16.7 16.7m0-16.7l-16.7 16.7"/>
<path d="M709.0 805.6l16.7 16.7m0-16.7l-16.7 16.7"/>
<path d="M709.0 780.9l16.7 16.7m0-16.7l-16.7 16.7"/>
<path d="M753.0 810.6l16.7 16.7m0-16.7l-16.7 16.7"/>
<path d="M753.0 815.5l16.7 16.7m0-16.7l-16.7 16.7"/>
<path d="M766.6 815.5l16.7 16.7m0-16.7l-16.7 16.7"/>
<path d="M781.3 825.4l16.7 16.7m0-16.7l-16.7 16.7"/>
<path d="M781.3 835.2l16.7 16.7m0-16.7l-16.7 16.7"/>
<path d="M781.3 835.2l16.7 16.7m0-16.7l-16.7 16.7"/>
<path d="M796.0 805.6l16.7 16.7m0-16.7l-16.7 16.7"/>
<path d="M796.0 815.5l16.7 16.7m0-16.7l-16.7 16.7"/>
<path d="M796.0 815.5l16.7 16.7m0-16.7l-16.7 16.7"/>
<path d="M809.6 790.8l16.7 16.7m0-16.7l-16.7 16.7"/>
<path d="M837.9 795.7l16.7 16.7m0-16.7l-16.7 16.7"/>
<path d="M837.9 800.7l16.7 16.7m0-16.7l-16.7 16.7"/>
<path d="M709.0 845.1l16.7 16.7m0-16.7l-16.7 16.7"/>
<path d="M723.7 845.1l16.7 16.7m0-16.7l-16.7 16.7"/>
<path d="M737.3 845.1l16.7 16.7m0-16.7l-16.7 16.7"/>
<path d="M766.6 850.0l16.7 16.7m0-16.7l-16.7 16.7"/>
<path d="M781.3 894.5l16.7 16.7m0-16.7l-16.7 16.7"/>
<path d="M781.3 899.4l16.7 16.7m0-16.7l-16.7 16.7"/>
<path d="M796.0 904.4l16.7 16.7m0-16.7l-16.7 16.7"/>
<path d="M809.6 909.3l16.7 16.7m0-16.7l-16.7 16.7"/>
<path d="M936.8 371.2l16.7 16.7m0-16.7l-16.7 16.7"/>
<path d="M936.8 371.2l16.7 16.7m0-16.7l-16.7 16.7"/>
<path d="M936.8 381.0l16.7 16.7m0-16.7l-16.7 16.7"/>
<path d="M936.8 381.0l16.7 16.7m0-16.7l-16.7 16.7"/>
<path d="M936.8 390.9l16.7 16.7m0-16.7l-16.7 16.7"/>
<path d="M952.5 395.8l16.7 16.7m0-16.7l-16.7 16.7"/>
<path d="M967.2 395.8l16.7 16.7m0-16.7l-16.7 16.7"/>
<path d="M980.8 395.8l16.7 16.7m0-16.7l-16.7 16.7"/>
<path d="M980.8 395.8l16.7 16.7m0-16.7l-16.7 16.7"/>
<path d="M995.5 395.8l16.7 16.7m0-16.7l-16.7 16.7"/>
<path d="M1010.1 395.8l16.7 16.7m0-16.7l-16.7 16.7"/>
<path d="M1024.8 395.8l16.7 16.7m0-16.7l-16.7 16.7"/>
<path d="M1038.4 395.8l16.7 16.7m0-16.7l-16.7 16.7"/>
<path d="M1052.0 395.8l16.7 16.7m0-16.7l-16.7 16.7"/>
<path d="M1066.7 390.9l16.7 16.7m0-16.7l-16.7 16.7"/>
<path d="M1095.0 390.9l16.7 16.7m0-16.7l-16.7 16.7"/>
<path d="M1109.7 390.9l16.7 16.7m0-16.7l-16.7 16.7"/>
<path d="M1123.3 386.0l16.7 16.7m0-16.7l-16.7 16.7"/>
<path d="M1138.0 386.0l16.7 16.7m0-16.7l-16.7 16.7"/>
<path d="M1179.9 376.1l16.7 16.7m0-16.7l-16.7 16.7"/>
<path d="M1179.9 376.1l16.7 16.7m0-16.7l-16.7 16.7"/>
<path d="M1179.9 371.2l16.7 16.7m0-16.7l-16.7 16.7"/>
<path d="M1237.5 386.0l16.7 16.7m0-16.7l-16.7 16.7"/>
<path d="M1251.1 390.9l16.7 16.7m0-16.7l-16.7 16.7"/>
<path d="M1265.8 390.9l16.7 16.7m0-16.7l-16.7 16.7"/>
<path d="M1194.5 410.7l16.7 16.7m0-16.7l-16.7 16.7"/>
<path d="M1194.5 410.7l16.7 16.7m0-16.7l-16.7 16.7"/>
<path d="M1179.9 415.6l16.7 16.7m0-16.7l-16.7 16.7"/>
<path d="M1166.2 425.5l16.7 16.7m0-16.7l-16.7 16.7"/>
<path d="M1151.6 425.5l16.7 16.7m0-16.7l-16.7 16.7"/>
<path d="M1138.0 430.4l16.7 16.7m0-16.7l-16.7 16.7"/>
<path d="M1123.3 435.3l16.7 16.7m0-16.7l-16.7 16.7"/>
<path d="M1109.7 435.3l16.7 16.7m0-16.7l-16.7 16.7"/>
<path d="M1095.0 435.3l16.7 16.7m0-16.7l-16.7 16.7"/>
<path d="M923.2 440.3l16.7 16.7m0-16.7l-16.7 16.7"/>
<path d="M937.8 445.2l16.7 16.7m0-16.7l-16.7 16.7"/>
<path d="M967.2 445.2l16.7 16.7m0-16.7l-16.7 16.7"/>
<path d="M995.5 445.2l16.7 16.7m0-16.7l-16.7 16.7"/>
<path d="M995.5 445.2l16.7 16.7m0-16.7l-16.7 16.7"/>
<path d="M1038.4 445.2l16.7 16.7m0-16.7l-16.7 16.7"/>
<path d="M1052.0 440.3l16.7 16.7m0-16.7l-16.7 16.7"/>
<path d="M1066.7 440.3l16.7 16.7m0-16.7l-16.7 16.7"/>
<path d="M1066.7 445.2l16.7 16.7m0-16.7l-16.7 16.7"/>
<path d="M1066.7 445.2l16.7 16.7m0-16.7l-16.7 16.7"/>
<path d="M1081.4 450.2l16.7 16.7m0-16.7l-16.7 16.7"/>
<path d="M1095.0 455.1l16.7 16.7m0-16.7l-16.7 16.7"/>
<path d="M1109.7 494.6l16.7 16.7m0-16.7l-16.7 16.7"/>
<path d="M1109.7 494.6l16.7 16.7m0-16.7l-16.7 16.7"/>
<path d="M1109.7 499.5l16.7 16.7m0-16.7l-16.7 16.7"/>
<path d="M1095.0 519.3l16.7 16.7m0-16.7l-16.7 16.7"/>
<path d="M1095.0 519.3l16.7 16.7m0-16.7l-16.7 16.7"/>
<path d="M1081.4 534.1l16.7 16.7m0-16.7l-16.7 16.7"/>
<path d="M1081.4 534.1l16.7 16.7m0-16.7l-16.7 16.7"/>
<path d="M1066.7 548.9l16.7 16.7m0-16.7l-16.7 16.7"/>
<path d="M1052.0 558.8l16.7 16.7m0-16.7l-16.7 16.7"/>
<path d="M1038.4 568.6l16.7 16.7m0-16.7l-16.7 16.7"/>
<path d="M1038.4 568.6l16.7 16.7m0-16.7l-16.7 16.7"/>
<path d="M1024.8 578.5l16.7 16.7m0-16.7l-16.7 16.7"/>
<path d="M1024.8 578.5l16.7 16.7m0-16.7l-16.7 16.7"/>
<path d="M1010.1 583.4l16.7 16.7m0-16.7l-16.7 16.7"/>
<path d="M980.8 593.3l16.7 16.7m0-16.7l-16.7 16.7"/>
<path d="M980.8 598.3l16.7 16.7m0-16.7l-16.7 16.7"/>
<path d="M980.8 598.3l16.7 16.7m0-16.7l-16.7 16.7"/>
<path d="M967.2 529.1l16.7 16.7m0-16.7l-16.7 16.7"/>
<path d="M967.2 529.1l16.7 16.7m0-16.7l-16.7 16.7"/>
<path d="M967.2 563.7l16.7 16.7m0-16.7l-16.7 16.7"/>
<path d="M967.2 568.6l16.7 16.7m0-16.7l-16.7 16.7"/>
<path d="M967.2 578.5l16.7 16.7m0-16.7l-16.7 16.7"/>
<path d="M937.8 613.1l16.7 16.7m0-16.7l-16.7 16.7"/>
<path d="M952.5 608.1l16.7 16.7m0-16.7l-16.7 16.7"/>
<path d="M1265.8 613.1l16.7 16.7m0-16.7l-16.7 16.7"/>
<path d="M1265.8 613.1l16.7 16.7m0-16.7l-16.7 16.7"/>
<path d="M1251.1 627.9l16.7 16.7m0-16.7l-16.7 16.7"/>
<path d="M1222.8 642.7l16.7 16.7m0-16.7l-16.7 16.7"/>
<path d="M1209.2 657.5l16.7 16.7m0-16.7l-16.7 16.7"/>
<path d="M1194.5 677.3l16.7 16.7m0-16.7l-16.7 16.7"/>
<path d="M1194.5 682.2l16.7 16.7m0-16.7l-16.7 16.7"/>
<path d="M1194.5 682.2l16.7 16.7m0-16.7l-16.7 16.7"/>
<path d="M1194.5 682.2l16.7 16.7m0-16.7l-16.7 16.7"/>
<path d="M1194.5 706.9l16.7 16.7m0-16.7l-16.7 16.7"/>
<path d="M1222.8 711.8l16.7 16.7m0-16.7l-16.7 16.7"/>
<path d="M1237.5 716.7l16.7 16.7m0-16.7l-16.7 16.7"/>
<path d="M1265.8 721.7l16.7 16.7m0-16.7l-16.7 16.7"/>
<path d="M1265.8 721.7l16.7 16.7m0-16.7l-16.7 16.7"/>
<path d="M1179.9 721.7l16.7 16.7m0-16.7l-16.7 16.7"/>
<path d="M1179.9 721.7l16.7 16.7m0-16.7l-16.7 16.7"/>
<path d="M1151.6 756.2l16.7 16.7m0-16.7l-16.7 16.7"/>
<path d="M1151.6 761.2l16.7 16.7m0-16.7l-16.7 16.7"/>
<path d="M1151.6 761.2l16.7 16.7m0-16.7l-16.7 16.7"/>
<path d="M1138.0 771.1l16.7 16.7m0-16.7l-16.7 16.7"/>
<path d="M1138.0 771.1l16.7 16.7m0-16.7l-16.7 16.7"/>
<path d="M1123.3 780.9l16.7 16.7m0-16.7l-16.7 16.7"/>
<path d="M1095.0 795.7l16.7 16.7m0-16.7l-16.7 16.7"/>
<path d="M1081.4 805.6l16.7 16.7m0-16.7l-16.7 16.7"/>
<path d="M1081.4 805.6l16.7 16.7m0-16.7l-16.7 16.7"/>
<path d="M1066.7 815.5l16.7 16.7m0-16.7l-16.7 16.7"/>
<path d="M1066.7 820.4l16.7 16.7m0-16.7l-16.7 16.7"/>
<path d="M1066.7 820.4l16.7 16.7m0-16.7l-16.7 16.7"/>
<path d="M1066.7 825.4l16.7 16.7m0-16.7l-16.7 16.7"/>
<path d="M1066.7 825.4l16.7 16.7m0-16.7l-16.7 16.7"/>
<path d="M937.8 815.5l16.7 16.7m0-16.7l-16.7 16.7"/>
<path d="M952.5 810.6l16.7 16.7m0-16.7l-16.7 16.7"/>
<path d="M967.2 810.6l16.7 16.7m0-16.7l-16.7 16.7"/>
<path d="M981.8 825.4l16.7 16.7m0-16.7l-16.7 16.7"/>
<path d="M995.5 825.4l16.7 16.7m0-16.7l-16.7 16.7"/>
<path d="M995.5 825.4l16.7 16.7m0-16.7l-16.7 16.7"/>
<path d="M1010.1 820.4l16.7 16.7m0-16.7l-16.7 16.7"/>
<path d="M1010.1 820.4l16.7 16.7m0-16.7l-16.7 16.7"/>
<path d="M1024.8 820.4l16.7 16.7m0-16.7l-16.7 16.7"/>
<path d="M1038.4 825.4l16.7 16.7m0-16.7l-16.7 16.7"/>
<path d="M1038.4 825.4l16.7 16.7m0-16.7l-16.7 16.7"/>
<path d="M1038.4 825.4l16.7 16.7m0-16.7l-16.7 16.7"/>
<path d="M1251.1 825.4l16.7 16.7m0-16.7l-16.7 16.7"/>
<path d="M1251.1 825.4l16.7 16.7m0-16.7l-16.7 16.7"/>
<path d="M1265.8 810.6l16.7 16.7m0-16.7l-16.7 16.7"/>
<path d="M853.2 805.6l16.7 16.7m0-16.7l-16.7 16.7"/>
<path d="M866.8 815.5l16.7 16.7m0-16.7l-16.7 16.7"/>
<path d="M880.4 810.6l16.7 16.7m0-16.7l-16.7 16.7"/>
<path d="M880.4 810.6l16.7 16.7m0-16.7l-16.7 16.7"/>
<path d="M908.7 815.5l16.7 16.7m0-16.7l-16.7 16.7"/>
<path d="M908.7 815.5l16.7 16.7m0-16.7l-16.7 16.7"/>
<path d="M1036.5 835.2l16.7 16.7m0-16.7l-16.7 16.7"/>
<path d="M1036.5 835.2l16.7 16.7m0-16.7l-16.7 16.7"/>
<path d="M1036.5 835.2l16.7 16.7m0-16.7l-16.7 16.7"/>
<path d="M1065.9 835.2l16.7 16.7m0-16.7l-16.7 16.7"/>
<path d="M1036.5 874.7l16.7 16.7m0-16.7l-16.7 16.7"/>
<path d="M1050.1 879.7l16.7 16.7m0-16.7l-16.7 16.7"/>
<path d="M1036.5 899.4l16.7 16.7m0-16.7l-16.7 16.7"/>
<path d="M1036.5 899.4l16.7 16.7m0-16.7l-16.7 16.7"/>
<path d="M1065.9 899.4l16.7 16.7m0-16.7l-16.7 16.7"/>
<path d="M1065.9 904.4l16.7 16.7m0-16.7l-16.7 16.7"/>
<path d="M1065.9 904.4l16.7 16.7m0-16.7l-16.7 16.7"/>
<path d="M1279.0 395.8l16.7 16.7m0-16.7l-16.7 16.7"/>
<path d="M1293.7 400.8l16.7 16.7m0-16.7l-16.7 16.7"/>
<path d="M1293.7 400.8l16.7 16.7m0-16.7l-16.7 16.7"/>
<path d="M1307.3 400.8l16.7 16.7m0-16.7l-16.7 16.7"/>
<path d="M1335.6 410.7l16.7 16.7m0-16.7l-16.7 16.7"/>
<path d="M1335.6 410.7l16.7 16.7m0-16.7l-16.7 16.7"/>
<path d="M1365.9 425.5l16.7 16.7m0-16.7l-16.7 16.7"/>
<path d="M1394.2 445.2l16.7 16.7m0-16.7l-16.7 16.7"/>
<path d="M1394.2 445.2l16.7 16.7m0-16.7l-16.7 16.7"/>
<path d="M1407.4 460.0l16.7 16.7m0-16.7l-16.7 16.7"/>
<path d="M1407.4 460.0l16.7 16.7m0-16.7l-16.7 16.7"/>
<path d="M1407.4 460.0l16.7 16.7m0-16.7l-16.7 16.7"/>
<path d="M1407.4 509.4l16.7 16.7m0-16.7l-16.7 16.7"/>
<path d="M1407.4 514.3l16.7 16.7m0-16.7l-16.7 16.7"/>
<path d="M1407.4 514.3l16.7 16.7m0-16.7l-16.7 16.7"/>
<path d="M1394.2 534.1l16.7 16.7m0-16.7l-16.7 16.7"/>
<path d="M1394.2 534.1l16.7 16.7m0-16.7l-16.7 16.7"/>
<path d="M1394.2 534.1l16.7 16.7m0-16.7l-16.7 16.7"/>
<path d="M1379.6 553.8l16.7 16.7m0-16.7l-16.7 16.7"/>
<path d="M1379.6 553.8l16.7 16.7m0-16.7l-16.7 16.7"/>
<path d="M1379.6 563.7l16.7 16.7m0-16.7l-16.7 16.7"/>
<path d="M1379.6 563.7l16.7 16.7m0-16.7l-16.7 16.7"/>
<path d="M1365.9 563.7l16.7 16.7m0-16.7l-16.7 16.7"/>
<path d="M1351.3 578.5l16.7 16.7m0-16.7l-16.7 16.7"/>
<path d="M1335.6 588.4l16.7 16.7m0-16.7l-16.7 16.7"/>
<path d="M1335.6 588.4l16.7 16.7m0-16.7l-16.7 16.7"/>
<path d="M1307.3 598.3l16.7 16.7m0-16.7l-16.7 16.7"/>
<path d="M1307.3 598.3l16.7 16.7m0-16.7l-16.7 16.7"/>
<path d="M1394.2 573.6l16.7 16.7m0-16.7l-16.7 16.7"/>
<path d="M1407.4 578.5l16.7 16.7m0-16.7l-16.7 16.7"/>
<path d="M1422.1 583.4l16.7 16.7m0-16.7l-16.7 16.7"/>
<path d="M1436.1 588.4l16.7 16.7m0-16.7l-16.7 16.7"/>
<path d="M1293.7 608.1l16.7 16.7m0-16.7l-16.7 16.7"/>
<path d="M1464.4 603.2l16.7 16.7m0-16.7l-16.7 16.7"/>
<path d="M1479.1 608.1l16.7 16.7m0-16.7l-16.7 16.7"/>
<path d="M1479.1 608.1l16.7 16.7m0-16.7l-16.7 16.7"/>
<path d="M1493.8 613.1l16.7 16.7m0-16.7l-16.7 16.7"/>
<path d="M1507.4 618.0l16.7 16.7m0-16.7l-16.7 16.7"/>
<path d="M1507.4 618.0l16.7 16.7m0-16.7l-16.7 16.7"/>
<path d="M1521.0 627.9l16.7 16.7m0-16.7l-16.7 16.7"/>
<path d="M1521.0 627.9l16.7 16.7m0-16.7l-16.7 16.7"/>
<path d="M1534.6 632.8l16.7 16.7m0-16.7l-16.7 16.7"/>
<path d="M1534.6 632.8l16.7 16.7m0-16.7l-16.7 16.7"/>
<path d="M1550.3 642.7l16.7 16.7m0-16.7l-16.7 16.7"/>
<path d="M1550.3 642.7l16.7 16.7m0-16.7l-16.7 16.7"/>
<path d="M1564.0 652.6l16.7 16.7m0-16.7l-16.7 16.7"/>
<path d="M1578.6 667.4l16.7 16.7m0-16.7l-16.7 16.7"/>
<path d="M1578.6 672.3l16.7 16.7m0-16.7l-16.7 16.7"/>
<path d="M1578.6 672.3l16.7 16.7m0-16.7l-16.7 16.7"/>
<path d="M1578.6 677.3l16.7 16.7m0-16.7l-16.7 16.7"/>
<path d="M1578.6 677.3l16.7 16.7m0-16.7l-16.7 16.7"/>
<path d="M1578.6 706.9l16.7 16.7m0-16.7l-16.7 16.7"/>
<path d="M1578.6 711.8l16.7 16.7m0-16.7l-16.7 16.7"/>
<path d="M1578.6 711.8l16.7 16.7m0-16.7l-16.7 16.7"/>
<path d="M1578.6 716.7l16.7 16.7m0-16.7l-16.7 16.7"/>
<path d="M1578.6 716.7l16.7 16.7m0-16.7l-16.7 16.7"/>
<path d="M1550.3 751.3l16.7 16.7m0-16.7l-16.7 16.7"/>
<path d="M1534.6 766.1l16.7 16.7m0-16.7l-16.7 16.7"/>
<path d="M1534.6 766.1l16.7 16.7m0-16.7l-16.7 16.7"/>
<path d="M1507.4 785.9l16.7 16.7m0-16.7l-16.7 16.7"/>
<path d="M1507.4 785.9l16.7 16.7m0-16.7l-16.7 16.7"/>
<path d="M1507.4 785.9l16.7 16.7m0-16.7l-16.7 16.7"/>
<path d="M1507.4 795.7l16.7 16.7m0-16.7l-16.7 16.7"/>
<path d="M1279.0 726.6l16.7 16.7m0-16.7l-16.7 16.7"/>
<path d="M1293.7 731.6l16.7 16.7m0-16.7l-16.7 16.7"/>
<path d="M1293.7 731.6l16.7 16.7m0-16.7l-16.7 16.7"/>
<path d="M1321.9 746.4l16.7 16.7m0-16.7l-16.7 16.7"/>
<path d="M1293.7 785.9l16.7 16.7m0-16.7l-16.7 16.7"/>
<path d="M1293.7 790.8l16.7 16.7m0-16.7l-16.7 16.7"/>
<path d="M1307.3 790.8l16.7 16.7m0-16.7l-16.7 16.7"/>
<path d="M1307.3 795.7l16.7 16.7m0-16.7l-16.7 16.7"/>
<path d="M1307.3 795.7l16.7 16.7m0-16.7l-16.7 16.7"/>
<path d="M1321.9 785.9l16.7 16.7m0-16.7l-16.7 16.7"/>
<path d="M1321.9 785.9l16.7 16.7m0-16.7l-16.7 16.7"/>
<path d="M1279.0 805.6l16.7 16.7m0-16.7l-16.7 16.7"/>
<path d="M1293.7 805.6l16.7 16.7m0-16.7l-16.7 16.7"/>
<path d="M1335.6 810.6l16.7 16.7m0-16.7l-16.7 16.7"/>
<path d="M1335.6 810.6l16.7 16.7m0-16.7l-16.7 16.7"/>
<path d="M1365.9 805.6l16.7 16.7m0-16.7l-16.7 16.7"/>
<path d="M1365.9 815.5l16.7 16.7m0-16.7l-16.7 16.7"/>
<path d="M1365.9 815.5l16.7 16.7m0-16.7l-16.7 16.7"/>
<path d="M1365.9 815.5l16.7 16.7m0-16.7l-16.7 16.7"/>
<path d="M1379.6 815.5l16.7 16.7m0-16.7l-16.7 16.7"/>
<path d="M1407.4 810.6l16.7 16.7m0-16.7l-16.7 16.7"/>
<path d="M1422.1 805.6l16.7 16.7m0-16.7l-16.7 16.7"/>
<path d="M1422.1 810.6l16.7 16.7m0-16.7l-16.7 16.7"/>
<path d="M1436.1 810.6l16.7 16.7m0-16.7l-16.7 16.7"/>
<path d="M1450.8 805.6l16.7 16.7m0-16.7l-16.7 16.7"/>
<path d="M1450.8 805.6l16.7 16.7m0-16.7l-16.7 16.7"/>
<path d="M1464.4 805.6l16.7 16.7m0-16.7l-16.7 16.7"/>
<path d="M1493.8 810.6l16.7 16.7m0-16.7l-16.7 16.7"/>
<path d="M1507.4 810.6l16.7 16.7m0-16.7l-16.7 16.7"/>
<path d="M1507.4 810.6l16.7 16.7m0-16.7l-16.7 16.7"/>
<path d="M1521.0 815.5l16.7 16.7m0-16.7l-16.7 16.7"/>
<path d="M1550.3 820.4l16.7 16.7m0-16.7l-16.7 16.7"/>
<path d="M1564.0 820.4l16.7 16.7m0-16.7l-16.7 16.7"/>
<path d="M1249.8 830.3l16.7 16.7m0-16.7l-16.7 16.7"/>
<path d="M1249.8 830.3l16.7 16.7m0-16.7l-16.7 16.7"/>
<path d="M1293.9 835.2l16.7 16.7m0-16.7l-16.7 16.7"/>
<path d="M1322.1 830.3l16.7 16.7m0-16.7l-16.7 16.7"/>
<path d="M1350.4 835.2l16.7 16.7m0-16.7l-16.7 16.7"/>
<path d="M1366.1 840.2l16.7 16.7m0-16.7l-16.7 16.7"/>
<path d="M1366.1 845.1l16.7 16.7m0-16.7l-16.7 16.7"/>
<path d="M1366.1 845.1l16.7 16.7m0-16.7l-16.7 16.7"/>
<path d="M1378.7 850.0l16.7 16.7m0-16.7l-16.7 16.7"/>
<path d="M1378.7 850.0l16.7 16.7m0-16.7l-16.7 16.7"/>
<path d="M1378.7 850.0l16.7 16.7m0-16.7l-16.7 16.7"/>
<path d="M1393.4 855.0l16.7 16.7m0-16.7l-16.7 16.7"/>
<path d="M1407.0 825.4l16.7 16.7m0-16.7l-16.7 16.7"/>
<path d="M1421.7 825.4l16.7 16.7m0-16.7l-16.7 16.7"/>
<path d="M1450.0 835.2l16.7 16.7m0-16.7l-16.7 16.7"/>
<path d="M1463.6 850.0l16.7 16.7m0-16.7l-16.7 16.7"/>
<path d="M1463.6 850.0l16.7 16.7m0-16.7l-16.7 16.7"/>
<path d="M1463.6 850.0l16.7 16.7m0-16.7l-16.7 16.7"/>
<path d="M1463.6 855.0l16.7 16.7m0-16.7l-16.7 16.7"/>
<path d="M1463.6 855.0l16.7 16.7m0-16.7l-16.7 16.7"/>
<path d="M1550.5 859.9l16.7 16.7m0-16.7l-16.7 16.7"/>
<path d="M1492.9 825.4l16.7 16.7m0-16.7l-16.7 16.7"/>
<path d="M1535.9 830.3l16.7 16.7m0-16.7l-16.7 16.7"/>
<path d="M1550.5 830.3l16.7 16.7m0-16.7l-16.7 16.7"/>
<path d="M1579.2 825.4l16.7 16.7m0-16.7l-16.7 16.7"/>
<path d="M1579.2 825.4l16.7 16.7m0-16.7l-16.7 16.7"/>
<path d="M1592.0 830.3l16.7 16.7m0-16.7l-16.7 16.7"/>
<path d="M1620.2 850.0l16.7 16.7m0-16.7l-16.7 16.7"/>
<path d="M1620.2 850.0l16.7 16.7m0-16.7l-16.7 16.7"/>
<path d="M1606.8 855.0l16.7 16.7m0-16.7l-16.7 16.7"/>
<path d="M1606.8 855.0l16.7 16.7m0-16.7l-16.7 16.7"/>
<path d="M1563.9 840.2l16.7 16.7m0-16.7l-16.7 16.7"/>
<path d="M866.1 228.0l16.7 16.7m0-16.7l-16.7 16.7"/>
<path d="M866.1 242.8l16.7 16.7m0-16.7l-16.7 16.7"/>
<path d="M866.1 242.8l16.7 16.7m0-16.7l-16.7 16.7"/>
<path d="M866.1 247.7l16.7 16.7m0-16.7l-16.7 16.7"/>
<path d="M866.1 247.7l16.7 16.7m0-16.7l-16.7 16.7"/>
<path d="M880.6 228.0l16.7 16.7m0-16.7l-16.7 16.7"/>
<path d="M880.6 228.0l16.7 16.7m0-16.7l-16.7 16.7"/>
<path d="M880.6 228.0l16.7 16.7m0-16.7l-16.7 16.7"/>
<path d="M880.6 232.9l16.7 16.7m0-16.7l-16.7 16.7"/>
<path d="M880.6 232.9l16.7 16.7m0-16.7l-16.7 16.7"/>
<path d="M880.6 232.9l16.7 16.7m0-16.7l-16.7 16.7"/>
<path d="M880.6 237.9l16.7 16.7m0-16.7l-16.7 16.7"/>
<path d="M880.6 237.9l16.7 16.7m0-16.7l-16.7 16.7"/>
<path d="M880.6 237.9l16.7 16.7m0-16.7l-16.7 16.7"/>
<path d="M880.6 242.8l16.7 16.7m0-16.7l-16.7 16.7"/>
<path d="M880.6 242.8l16.7 16.7m0-16.7l-16.7 16.7"/>
<path d="M880.6 242.8l16.7 16.7m0-16.7l-16.7 16.7"/>
<path d="M880.6 247.7l16.7 16.7m0-16.7l-16.7 16.7"/>
<path d="M880.6 247.7l16.7 16.7m0-16.7l-16.7 16.7"/>
<path d="M880.6 247.7l16.7 16.7m0-16.7l-16.7 16.7"/>
<path d="M880.6 252.7l16.7 16.7m0-16.7l-16.7 16.7"/>
<path d="M880.6 252.7l16.7 16.7m0-16.7l-16.7 16.7"/>
<path d="M880.6 252.7l16.7 16.7m0-16.7l-16.7 16.7"/>
<path d="M894.6 232.9l16.7 16.7m0-16.7l-16.7 16.7"/>
<path d="M894.6 232.9l16.7 16.7m0-16.7l-16.7 16.7"/>
<path d="M894.6 232.9l16.7 16.7m0-16.7l-16.7 16.7"/>
<path d="M894.6 237.9l16.7 16.7m0-16.7l-16.7 16.7"/>
<path d="M894.6 237.9l16.7 16.7m0-16.7l-16.7 16.7"/>
<path d="M894.6 237.9l16.7 16.7m0-16.7l-16.7 16.7"/>
<path d="M894.6 242.8l16.7 16.7m0-16.7l-16.7 16.7"/>
<path d="M894.6 242.8l16.7 16.7m0-16.7l-16.7 16.7"/>
<path d="M894.6 242.8l16.7 16.7m0-16.7l-16.7 16.7"/>
<path d="M894.6 247.7l16.7 16.7m0-16.7l-16.7 16.7"/>
<path d="M894.6 247.7l16.7 16.7m0-16.7l-16.7 16.7"/>
<path d="M894.6 247.7l16.7 16.7m0-16.7l-16.7 16.7"/>
<path d="M894.6 252.7l16.7 16.7m0-16.7l-16.7 16.7"/>
<path d="M894.6 252.7l16.7 16.7m0-16.7l-16.7 16.7"/>
<path d="M894.6 252.7l16.7 16.7m0-16.7l-16.7 16.7"/>
<path d="M909.1 232.9l16.7 16.7m0-16.7l-16.7 16.7"/>
<path d="M909.1 232.9l16.7 16.7m0-16.7l-16.7 16.7"/>
<path d="M909.1 232.9l16.7 16.7m0-16.7l-16.7 16.7"/>
<path d="M909.1 237.9l16.7 16.7m0-16.7l-16.7 16.7"/>
<path d="M909.1 237.9l16.7 16.7m0-16.7l-16.7 16.7"/>
<path d="M909.1 237.9l16.7 16.7m0-16.7l-16.7 16.7"/>
<path d="M909.1 242.8l16.7 16.7m0-16.7l-16.7 16.7"/>
<path d="M909.1 242.8l16.7 16.7m0-16.7l-16.7 16.7"/>
<path d="M909.1 242.8l16.7 16.7m0-16.7l-16.7 16.7"/>
<path d="M909.1 247.7l16.7 16.7m0-16.7l-16.7 16.7"/>
<path d="M909.1 247.7l16.7 16.7m0-16.7l-16.7 16.7"/>
<path d="M909.1 247.7l16.7 16.7m0-16.7l-16.7 16.7"/>
<path d="M923.6 232.9l16.7 16.7m0-16.7l-16.7 16.7"/>
<path d="M936.6 228.0l16.7 16.7m0-16.7l-16.7 16.7"/>
<path d="M936.6 232.9l16.7 16.7m0-16.7l-16.7 16.7"/>
<path d="M936.6 232.9l16.7 16.7m0-16.7l-16.7 16.7"/>
<path d="M936.6 237.9l16.7 16.7m0-16.7l-16.7 16.7"/>
<path d="M936.6 237.9l16.7 16.7m0-16.7l-16.7 16.7"/>
<path d="M936.6 237.9l16.7 16.7m0-16.7l-16.7 16.7"/>
<path d="M936.6 242.8l16.7 16.7m0-16.7l-16.7 16.7"/>
<path d="M936.6 242.8l16.7 16.7m0-16.7l-16.7 16.7"/>
<path d="M936.6 242.8l16.7 16.7m0-16.7l-16.7 16.7"/>
<path d="M936.6 252.7l16.7 16.7m0-16.7l-16.7 16.7"/>
<path d="M952.6 228.0l16.7 16.7m0-16.7l-16.7 16.7"/>
<path d="M1050.7 228.0l16.7 16.7m0-16.7l-16.7 16.7"/>
<path d="M1050.7 228.0l16.7 16.7m0-16.7l-16.7 16.7"/>
<path d="M1050.7 228.0l16.7 16.7m0-16.7l-16.7 16.7"/>
<path d="M1050.7 232.9l16.7 16.7m0-16.7l-16.7 16.7"/>
<path d="M1050.7 232.9l16.7 16.7m0-16.7l-16.7 16.7"/>
<path d="M1050.7 232.9l16.7 16.7m0-16.7l-16.7 16.7"/>
<path d="M1050.7 237.9l16.7 16.7m0-16.7l-16.7 16.7"/>
<path d="M1050.7 237.9l16.7 16.7m0-16.7l-16.7 16.7"/>
<path d="M1050.7 237.9l16.7 16.7m0-16.7l-16.7 16.7"/>
<path d="M1050.7 242.8l16.7 16.7m0-16.7l-16.7 16.7"/>
<path d="M1050.7 242.8l16.7 16.7m0-16.7l-16.7 16.7"/>
<path d="M1050.7 242.8l16.7 16.7m0-16.7l-16.7 16.7"/>
<path d="M1093.7 228.0l16.7 16.7m0-16.7l-16.7 16.7"/>
<path d="M1093.7 228.0l16.7 16.7m0-16.7l-16.7 16.7"/>
<path d="M1093.7 228.0l16.7 16.7m0-16.7l-16.7 16.7"/>
<path d="M1093.7 232.9l16.7 16.7m0-16.7l-16.7 16.7"/>
<path d="M1093.7 232.9l16.7 16.7m0-16.7l-16.7 16.7"/>
<path d="M1093.7 232.9l16.7 16.7m0-16.7l-16.7 16.7"/>
<path d="M1093.7 237.9l16.7 16.7m0-16.7l-16.7 16.7"/>
<path d="M1093.7 237.9l16.7 16.7m0-16.7l-16.7 16.7"/>
<path d="M1093.7 237.9l16.7 16.7m0-16.7l-16.7 16.7"/>
<path d="M1093.7 242.8l16.7 16.7m0-16.7l-16.7 16.7"/>
<path d="M1093.7 242.8l16.7 16.7m0-16.7l-16.7 16.7"/>
<path d="M1093.7 242.8l16.7 16.7m0-16.7l-16.7 16.7"/>
<path d="M1064.7 228.0l16.7 16.7m0-16.7l-16.7 16.7"/>
<path d="M1064.7 232.9l16.7 16.7m0-16.7l-16.7 16.7"/>
<path d="M1064.7 232.9l16.7 16.7m0-16.7l-16.7 16.7"/>
<path d="M1064.7 232.9l16.7 16.7m0-16.7l-16.7 16.7"/>
<path d="M1064.7 237.9l16.7 16.7m0-16.7l-16.7 16.7"/>
<path d="M1064.7 237.9l16.7 16.7m0-16.7l-16.7 16.7"/>
<path d="M1064.7 237.9l16.7 16.7m0-16.7l-16.7 16.7"/>
<path d="M1064.7 242.8l16.7 16.7m0-16.7l-16.7 16.7"/>
<path d="M1064.7 242.8l16.7 16.7m0-16.7l-16.7 16.7"/>
<path d="M1064.7 242.8l16.7 16.7m0-16.7l-16.7 16.7"/>
<path d="M1079.2 228.0l16.7 16.7m0-16.7l-16.7 16.7"/>
<path d="M1079.2 232.9l16.7 16.7m0-16.7l-16.7 16.7"/>
<path d="M1079.2 232.9l16.7 16.7m0-16.7l-16.7 16.7"/>
<path d="M1079.2 232.9l16.7 16.7m0-16.7l-16.7 16.7"/>
<path d="M1079.2 237.9l16.7 16.7m0-16.7l-16.7 16.7"/>
<path d="M1079.2 237.9l16.7 16.7m0-16.7l-16.7 16.7"/>
<path d="M1079.2 237.9l16.7 16.7m0-16.7l-16.7 16.7"/>
<path d="M1079.2 242.8l16.7 16.7m0-16.7l-16.7 16.7"/>
<path d="M1079.2 242.8l16.7 16.7m0-16.7l-16.7 16.7"/>
<path d="M1079.2 242.8l16.7 16.7m0-16.7l-16.7 16.7"/>
<path d="M923.4 104.6l16.7 16.7m0-16.7l-16.7 16.7"/>
<path d="M952.6 104.6l16.7 16.7m0-16.7l-16.7 16.7"/>
<path d="M980.8 109.5l16.7 16.7m0-16.7l-16.7 16.7"/>
<path d="M994.2 114.4l16.7 16.7m0-16.7l-16.7 16.7"/>
<path d="M1021.8 109.5l16.7 16.7m0-16.7l-16.7 16.7"/>
<path d="M1036.5 109.5l16.7 16.7m0-16.7l-16.7 16.7"/>
<path d="M1080.7 124.3l16.7 16.7m0-16.7l-16.7 16.7"/>
<path d="M1094.1 129.2l16.7 16.7m0-16.7l-16.7 16.7"/>
<path d="M1094.1 139.1l16.7 16.7m0-16.7l-16.7 16.7"/>
<path d="M1094.1 139.1l16.7 16.7m0-16.7l-16.7 16.7"/>
<path d="M1108.9 144.1l16.7 16.7m0-16.7l-16.7 16.7"/>
<path d="M923.2 134.2l16.7 16.7m0-16.7l-16.7 16.7"/>
<path d="M937.3 129.2l16.7 16.7m0-16.7l-16.7 16.7"/>
<path d="M1050.6 134.2l16.7 16.7m0-16.7l-16.7 16.7"/>
<path d="M1066.0 134.2l16.7 16.7m0-16.7l-16.7 16.7"/>
<path d="M937.9 188.5l16.7 16.7m0-16.7l-16.7 16.7"/>
<path d="M921.9 203.3l16.7 16.7m0-16.7l-16.7 16.7"/>
<path d="M937.9 203.3l16.7 16.7m0-16.7l-16.7 16.7"/>
<path d="M952.6 208.2l16.7 16.7m0-16.7l-16.7 16.7"/>
<path d="M1007.7 193.4l16.7 16.7m0-16.7l-16.7 16.7"/>
<path d="M1032.7 193.4l16.7 16.7m0-16.7l-16.7 16.7"/>
<path d="M1036.5 193.4l16.7 16.7m0-16.7l-16.7 16.7"/>
<path d="M1036.5 193.4l16.7 16.7m0-16.7l-16.7 16.7"/>
<path d="M1050.6 193.4l16.7 16.7m0-16.7l-16.7 16.7"/>
<path d="M1050.6 198.4l16.7 16.7m0-16.7l-16.7 16.7"/>
<path d="M1050.6 198.4l16.7 16.7m0-16.7l-16.7 16.7"/>
<path d="M1066.0 188.5l16.7 16.7m0-16.7l-16.7 16.7"/>
<path d="M1080.7 188.5l16.7 16.7m0-16.7l-16.7 16.7"/>
<path d="M1108.9 188.5l16.7 16.7m0-16.7l-16.7 16.7"/>
<path d="M1066.0 198.4l16.7 16.7m0-16.7l-16.7 16.7"/>
<path d="M1080.7 198.4l16.7 16.7m0-16.7l-16.7 16.7"/>
<path d="M1080.7 198.4l16.7 16.7m0-16.7l-16.7 16.7"/>
<path d="M1108.9 198.4l16.7 16.7m0-16.7l-16.7 16.7"/>
<path d="M1021.8 203.3l16.7 16.7m0-16.7l-16.7 16.7"/>
<path d="M1009.0 218.1l16.7 16.7m0-16.7l-16.7 16.7"/>
<path d="M1009.0 218.1l16.7 16.7m0-16.7l-16.7 16.7"/>
<path d="M1108.9 223.0l16.7 16.7m0-16.7l-16.7 16.7"/>
<path d="M1021.8 228.0l16.7 16.7m0-16.7l-16.7 16.7"/>
<path d="M1036.5 252.7l16.7 16.7m0-16.7l-16.7 16.7"/>
<path d="M1036.5 252.7l16.7 16.7m0-16.7l-16.7 16.7"/>
<path d="M1050.6 257.6l16.7 16.7m0-16.7l-16.7 16.7"/>
<path d="M1080.7 262.5l16.7 16.7m0-16.7l-16.7 16.7"/>
<path d="M1108.9 262.5l16.7 16.7m0-16.7l-16.7 16.7"/>
<path d="M1122.9 257.6l16.7 16.7m0-16.7l-16.7 16.7"/>
<path d="M952.6 282.3l16.7 16.7m0-16.7l-16.7 16.7"/>
<path d="M980.8 282.3l16.7 16.7m0-16.7l-16.7 16.7"/>
<path d="M1066.0 292.2l16.7 16.7m0-16.7l-16.7 16.7"/>
<path d="M1080.7 292.2l16.7 16.7m0-16.7l-16.7 16.7"/>
<path d="M1021.8 297.1l16.7 16.7m0-16.7l-16.7 16.7"/>
<path d="M1036.5 297.1l16.7 16.7m0-16.7l-16.7 16.7"/>
<path d="M980.8 307.0l16.7 16.7m0-16.7l-16.7 16.7"/>
<path d="M994.2 307.0l16.7 16.7m0-16.7l-16.7 16.7"/>
<path d="M1009.0 302.0l16.7 16.7m0-16.7l-16.7 16.7"/>
<path d="M1009.0 302.0l16.7 16.7m0-16.7l-16.7 16.7"/>
<path d="M952.6 302.0l16.7 16.7m0-16.7l-16.7 16.7"/>
<path d="M937.3 297.1l16.7 16.7m0-16.7l-16.7 16.7"/>
<path d="M914.2 292.2l16.7 16.7m0-16.7l-16.7 16.7"/>
<path d="M923.8 316.9l16.7 16.7m0-16.7l-16.7 16.7"/>
<path d="M923.8 316.9l16.7 16.7m0-16.7l-16.7 16.7"/>
<path d="M1066.0 326.7l16.7 16.7m0-16.7l-16.7 16.7"/>
<path d="M1080.7 321.8l16.7 16.7m0-16.7l-16.7 16.7"/>
<path d="M1094.1 311.9l16.7 16.7m0-16.7l-16.7 16.7"/>
<path d="M1094.1 311.9l16.7 16.7m0-16.7l-16.7 16.7"/>
<path d="M923.2 361.3l16.7 16.7m0-16.7l-16.7 16.7"/>
<path d="M937.3 361.3l16.7 16.7m0-16.7l-16.7 16.7"/>
<path d="M937.3 366.2l16.7 16.7m0-16.7l-16.7 16.7"/>
<path d="M937.3 366.2l16.7 16.7m0-16.7l-16.7 16.7"/>
<path d="M980.8 361.3l16.7 16.7m0-16.7l-16.7 16.7"/>
<path d="M1066.0 361.3l16.7 16.7m0-16.7l-16.7 16.7"/>
<path d="M1094.1 361.3l16.7 16.7m0-16.7l-16.7 16.7"/>
<path d="M1122.9 361.3l16.7 16.7m0-16.7l-16.7 16.7"/>
<path d="M1150.2 129.2l16.7 16.7m0-16.7l-16.7 16.7"/>
<path d="M1165.6 139.1l16.7 16.7m0-16.7l-16.7 16.7"/>
<path d="M1179.0 134.2l16.7 16.7m0-16.7l-16.7 16.7"/>
<path d="M1193.8 139.1l16.7 16.7m0-16.7l-16.7 16.7"/>
<path d="M1136.1 149.0l16.7 16.7m0-16.7l-16.7 16.7"/>
<path d="M1136.1 149.0l16.7 16.7m0-16.7l-16.7 16.7"/>
<path d="M1150.2 153.9l16.7 16.7m0-16.7l-16.7 16.7"/>
<path d="M1165.6 158.9l16.7 16.7m0-16.7l-16.7 16.7"/>
<path d="M1179.0 163.8l16.7 16.7m0-16.7l-16.7 16.7"/>
<path d="M1179.0 163.8l16.7 16.7m0-16.7l-16.7 16.7"/>
<path d="M1209.1 178.6l16.7 16.7m0-16.7l-16.7 16.7"/>
<path d="M1209.1 178.6l16.7 16.7m0-16.7l-16.7 16.7"/>
<path d="M1221.9 183.6l16.7 16.7m0-16.7l-16.7 16.7"/>
<path d="M1221.9 188.5l16.7 16.7m0-16.7l-16.7 16.7"/>
<path d="M1236.7 193.4l16.7 16.7m0-16.7l-16.7 16.7"/>
<path d="M1236.7 198.4l16.7 16.7m0-16.7l-16.7 16.7"/>
<path d="M1250.1 208.2l16.7 16.7m0-16.7l-16.7 16.7"/>
<path d="M1265.5 223.0l16.7 16.7m0-16.7l-16.7 16.7"/>
<path d="M1265.5 223.0l16.7 16.7m0-16.7l-16.7 16.7"/>
<path d="M1279.6 213.2l16.7 16.7m0-16.7l-16.7 16.7"/>
<path d="M1293.6 213.2l16.7 16.7m0-16.7l-16.7 16.7"/>
<path d="M1307.7 213.2l16.7 16.7m0-16.7l-16.7 16.7"/>
<path d="M1307.7 228.0l16.7 16.7m0-16.7l-16.7 16.7"/>
<path d="M1322.5 218.1l16.7 16.7m0-16.7l-16.7 16.7"/>
<path d="M1150.2 188.5l16.7 16.7m0-16.7l-16.7 16.7"/>
<path d="M1165.6 188.5l16.7 16.7m0-16.7l-16.7 16.7"/>
<path d="M1193.8 198.4l16.7 16.7m0-16.7l-16.7 16.7"/>
<path d="M1193.8 198.4l16.7 16.7m0-16.7l-16.7 16.7"/>
<path d="M1209.1 208.2l16.7 16.7m0-16.7l-16.7 16.7"/>
<path d="M1136.1 203.3l16.7 16.7m0-16.7l-16.7 16.7"/>
<path d="M1150.2 203.3l16.7 16.7m0-16.7l-16.7 16.7"/>
<path d="M1165.6 208.2l16.7 16.7m0-16.7l-16.7 16.7"/>
<path d="M1165.6 208.2l16.7 16.7m0-16.7l-16.7 16.7"/>
<path d="M1179.0 218.1l16.7 16.7m0-16.7l-16.7 16.7"/>
<path d="M1179.0 218.1l16.7 16.7m0-16.7l-16.7 16.7"/>
<path d="M1179.0 223.0l16.7 16.7m0-16.7l-16.7 16.7"/>
<path d="M1136.1 223.0l16.7 16.7m0-16.7l-16.7 16.7"/>
<path d="M1136.1 247.7l16.7 16.7m0-16.7l-16.7 16.7"/>
<path d="M1209.1 257.6l16.7 16.7m0-16.7l-16.7 16.7"/>
<path d="M1209.1 257.6l16.7 16.7m0-16.7l-16.7 16.7"/>
<path d="M1193.8 277.4l16.7 16.7m0-16.7l-16.7 16.7"/>
<path d="M1179.0 282.3l16.7 16.7m0-16.7l-16.7 16.7"/>
<path d="M1179.0 287.2l16.7 16.7m0-16.7l-16.7 16.7"/>
<path d="M1165.6 292.2l16.7 16.7m0-16.7l-16.7 16.7"/>
<path d="M1165.6 297.1l16.7 16.7m0-16.7l-16.7 16.7"/>
<path d="M1150.2 292.2l16.7 16.7m0-16.7l-16.7 16.7"/>
<path d="M1193.8 311.9l16.7 16.7m0-16.7l-16.7 16.7"/>
<path d="M1193.8 311.9l16.7 16.7m0-16.7l-16.7 16.7"/>
<path d="M1209.1 321.8l16.7 16.7m0-16.7l-16.7 16.7"/>
<path d="M1209.1 321.8l16.7 16.7m0-16.7l-16.7 16.7"/>
<path d="M1209.1 326.7l16.7 16.7m0-16.7l-16.7 16.7"/>
<path d="M1209.1 326.7l16.7 16.7m0-16.7l-16.7 16.7"/>
<path d="M1221.9 311.9l16.7 16.7m0-16.7l-16.7 16.7"/>
<path d="M1236.7 297.1l16.7 16.7m0-16.7l-16.7 16.7"/>
<path d="M1236.7 302.0l16.7 16.7m0-16.7l-16.7 16.7"/>
<path d="M1250.1 287.2l16.7 16.7m0-16.7l-16.7 16.7"/>
<path d="M1250.1 287.2l16.7 16.7m0-16.7l-16.7 16.7"/>
<path d="M1250.1 292.2l16.7 16.7m0-16.7l-16.7 16.7"/>
<path d="M1265.5 267.5l16.7 16.7m0-16.7l-16.7 16.7"/>
<path d="M1265.5 292.2l16.7 16.7m0-16.7l-16.7 16.7"/>
<path d="M1279.6 287.2l16.7 16.7m0-16.7l-16.7 16.7"/>
<path d="M1279.6 287.2l16.7 16.7m0-16.7l-16.7 16.7"/>
<path d="M1293.6 282.3l16.7 16.7m0-16.7l-16.7 16.7"/>
<path d="M1293.6 282.3l16.7 16.7m0-16.7l-16.7 16.7"/>
<path d="M1307.7 277.4l16.7 16.7m0-16.7l-16.7 16.7"/>
<path d="M1322.5 257.6l16.7 16.7m0-16.7l-16.7 16.7"/>
<path d="M1322.5 262.5l16.7 16.7m0-16.7l-16.7 16.7"/>
<path d="M1165.6 326.7l16.7 16.7m0-16.7l-16.7 16.7"/>
<path d="M1179.0 336.6l16.7 16.7m0-16.7l-16.7 16.7"/>
<path d="M1179.0 336.6l16.7 16.7m0-16.7l-16.7 16.7"/>
<path d="M1179.0 336.6l16.7 16.7m0-16.7l-16.7 16.7"/>
<path d="M1179.0 341.5l16.7 16.7m0-16.7l-16.7 16.7"/>
<path d="M1179.0 341.5l16.7 16.7m0-16.7l-16.7 16.7"/>
<path d="M1193.8 331.7l16.7 16.7m0-16.7l-16.7 16.7"/>
<path d="M1221.9 336.6l16.7 16.7m0-16.7l-16.7 16.7"/>
<path d="M1221.9 341.5l16.7 16.7m0-16.7l-16.7 16.7"/>
<path d="M1165.6 346.5l16.7 16.7m0-16.7l-16.7 16.7"/>
<path d="M1150.2 351.4l16.7 16.7m0-16.7l-16.7 16.7"/>
<path d="M1136.1 356.3l16.7 16.7m0-16.7l-16.7 16.7"/>
<path d="M1179.0 351.4l16.7 16.7m0-16.7l-16.7 16.7"/>
<path d="M1179.0 366.2l16.7 16.7m0-16.7l-16.7 16.7"/>
<path d="M1179.0 366.2l16.7 16.7m0-16.7l-16.7 16.7"/>
</g>
<g class="g">
<path d="M219.00 994.50V70.30"/>
<path d="M407.00 994.50V70.30"/>
<path d="M595.00 994.50V70.30"/>
<path d="M783.00 994.50V70.30"/>
<path d="M971.00 994.50V70.30"/>
<path d="M1158.00 994.50V70.30"/>
<path d="M1346.00 994.50V70.30"/>
<path d="M1534.00 994.50V70.30"/>
<path d="M149.50 952.00H1699.50"/>
<path d="M149.50 829.00H1699.50"/>
<path d="M149.50 705.00H1699.50"/>
<path d="M149.50 582.00H1699.50"/>
<path d="M149.50 458.00H1699.50"/>
<path d="M149.50 334.00H1699.50"/>
<path d="M149.50 211.00H1699.50"/>
<path d="M149.50 87.00H1699.50"/>
</g>
<g class="t">
<path d="M219.00 994.50v-10.5"/>
<path d="M407.00 994.50v-10.5"/>
<path d="M595.00 994.50v-10.5"/>
<path d="M783.00 994.50v-10.5"/>
<path d="M971.00 994.50v-10.5"/>
<path d="M1158.00 994.50v-10.5"/>
<path d="M1346.00 994.50v-10.5"/>
<path d="M1534.00 994.50v-10.5"/>
<path d="M149.50 952.00h9.7"/>
<path d="M149.50 829.00h9.7"/>
<path d="M149.50 705.00h9.7"/>
<path d="M149.50 582.00h9.7"/>
<path d="M149.50 458.00h9.7"/>
<path d="M149.50 334.00h9.7"/>
<path d="M149.50 211.00h9.7"/>
<path d="M149.50 87.00h9.7"/>
</g>
<path class="sp" d="M149.50 994.50V70.30"/>
<path class="sp" d="M149.50 994.50H1699.50"/>
<text class="tk" x="219.05" y="1030" text-anchor="middle">0</text>
<text class="tk" x="406.93" y="1030" text-anchor="middle">2000</text>
<text class="tk" x="594.81" y="1030" text-anchor="middle">4000</text>
<text class="tk" x="782.69" y="1030" text-anchor="middle">6000</text>
<text class="tk" x="970.57" y="1030" text-anchor="middle">8000</text>
<text class="tk" x="1158.44" y="1030" text-anchor="middle">10000</text>
<text class="tk" x="1346.32" y="1030" text-anchor="middle">12000</text>
<text class="tk" x="1534.20" y="1030" text-anchor="middle">14000</text>
<text class="tk" x="138.6" y="966.40" text-anchor="end">15.0</text>
<text class="tk" x="138.6" y="842.80" text-anchor="end">17.5</text>
<text class="tk" x="138.6" y="719.20" text-anchor="end">20.0</text>
<text class="tk" x="138.6" y="595.60" text-anchor="end">22.5</text>
<text class="tk" x="138.6" y="472.00" text-anchor="end">25.0</text>
<text class="tk" x="138.6" y="348.40" text-anchor="end">27.5</text>
<text class="tk" x="138.6" y="224.80" text-anchor="end">30.0</text>
<text class="tk" x="138.6" y="101.20" text-anchor="end">32.5</text>
<text class="tk" x="923.10" y="1074.4" text-anchor="middle">Steps</text>
<text class="tk" transform="translate(48.7,537.40) rotate(-90)" text-anchor="middle">BMI</text>
<text class="ti" x="924.50" y="54.3" text-anchor="middle">Scatter Plot of Steps vs BMI by Gender</text>
<rect x="1484.8" y="84.8" width="200.2" height="91.1" rx="5.5" ry="5.5" fill="#ffffff" fill-opacity="0.8" stroke="#cccccc" stroke-opacity="0.8" stroke-width="3"/>
<g class="m"><path d="M1515.2 102.2l16.7 16.7m0-16.7l-16.7 16.7"/></g>
<g class="f"><path d="M1515.2 144.2l16.7 16.7m0-16.7l-16.7 16.7"/></g>
<text class="lg" x="1574" y="117.8">Male</text>
<text class="lg" x="1574" y="159.7">Female</text>
</svg></body></html>
